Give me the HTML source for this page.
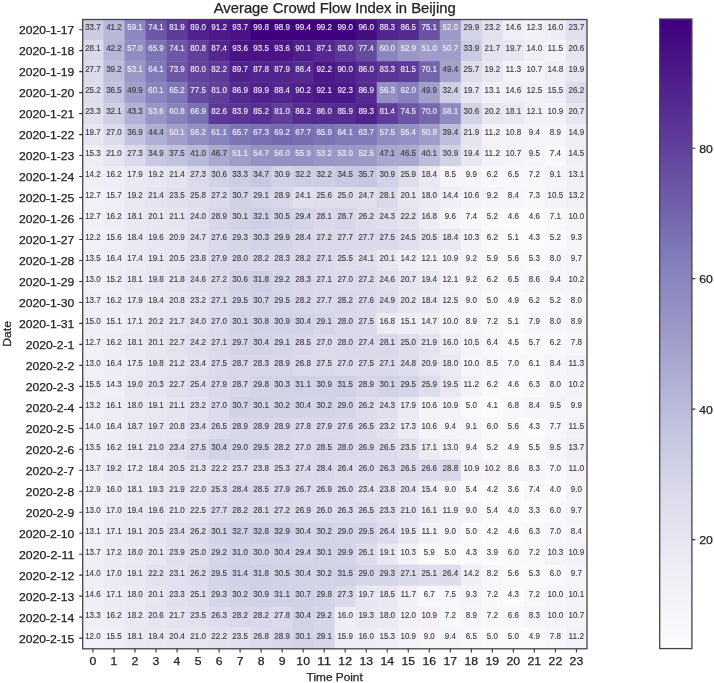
<!DOCTYPE html>
<html><head><meta charset="utf-8"><title>Average Crowd Flow Index in Beijing</title>
<style>html,body{margin:0;padding:0;background:#fff;}body{width:714px;height:683px;position:relative;overflow:hidden;font-family:"Liberation Sans", sans-serif;}</style>
</head><body>
<svg width="714" height="683" viewBox="0 0 714 683" style="position:absolute;left:0;top:0;will-change:transform">
<defs><linearGradient id="cb" x1="0" y1="1" x2="0" y2="0">
<stop offset="0.0000" stop-color="#fcfbfd"/>
<stop offset="0.1250" stop-color="#efedf5"/>
<stop offset="0.2500" stop-color="#dadaeb"/>
<stop offset="0.3750" stop-color="#bcbddc"/>
<stop offset="0.5000" stop-color="#9e9ac8"/>
<stop offset="0.6250" stop-color="#807cba"/>
<stop offset="0.7500" stop-color="#6950a3"/>
<stop offset="0.8750" stop-color="#53268f"/>
<stop offset="1.0000" stop-color="#3f007d"/>
</linearGradient></defs>
<rect width="714" height="683" fill="#fff"/>
<rect x="82.44" y="19.20" width="21.42" height="21.38" fill="#cbcbe3"/>
<rect x="103.46" y="19.20" width="21.42" height="21.38" fill="#b8b8d9"/>
<rect x="124.48" y="19.20" width="21.42" height="21.38" fill="#8b87bf"/>
<rect x="145.50" y="19.20" width="21.42" height="21.38" fill="#6d57a6"/>
<rect x="166.52" y="19.20" width="21.42" height="21.38" fill="#5e3b98"/>
<rect x="187.54" y="19.20" width="21.42" height="21.38" fill="#51228d"/>
<rect x="208.56" y="19.20" width="21.42" height="21.38" fill="#4d1b89"/>
<rect x="229.58" y="19.20" width="21.42" height="21.38" fill="#4a1486"/>
<rect x="250.60" y="19.20" width="21.42" height="21.38" fill="#3f007d"/>
<rect x="271.62" y="19.20" width="21.42" height="21.38" fill="#40027e"/>
<rect x="292.64" y="19.20" width="21.42" height="21.38" fill="#40017e"/>
<rect x="313.66" y="19.20" width="21.42" height="21.38" fill="#40017e"/>
<rect x="334.68" y="19.20" width="21.42" height="21.38" fill="#40027e"/>
<rect x="355.70" y="19.20" width="21.42" height="21.38" fill="#460c83"/>
<rect x="376.72" y="19.20" width="21.42" height="21.38" fill="#53258e"/>
<rect x="397.74" y="19.20" width="21.42" height="21.38" fill="#562b91"/>
<rect x="418.76" y="19.20" width="21.42" height="21.38" fill="#6b53a4"/>
<rect x="439.78" y="19.20" width="21.42" height="21.38" fill="#9d99c7"/>
<rect x="460.80" y="19.20" width="21.42" height="21.38" fill="#d4d4e8"/>
<rect x="481.82" y="19.20" width="21.42" height="21.38" fill="#e2e1ef"/>
<rect x="502.84" y="19.20" width="21.42" height="21.38" fill="#f0eef6"/>
<rect x="523.86" y="19.20" width="21.42" height="21.38" fill="#f3f1f7"/>
<rect x="544.88" y="19.20" width="21.42" height="21.38" fill="#eeecf5"/>
<rect x="565.90" y="19.20" width="21.42" height="21.38" fill="#e0e0ee"/>
<rect x="82.44" y="40.18" width="21.42" height="21.38" fill="#d9d9ea"/>
<rect x="103.46" y="40.18" width="21.42" height="21.38" fill="#b5b5d7"/>
<rect x="124.48" y="40.18" width="21.42" height="21.38" fill="#908dc2"/>
<rect x="145.50" y="40.18" width="21.42" height="21.38" fill="#7b74b5"/>
<rect x="166.52" y="40.18" width="21.42" height="21.38" fill="#6d57a6"/>
<rect x="187.54" y="40.18" width="21.42" height="21.38" fill="#613f9a"/>
<rect x="208.56" y="40.18" width="21.42" height="21.38" fill="#54278f"/>
<rect x="229.58" y="40.18" width="21.42" height="21.38" fill="#4a1486"/>
<rect x="250.60" y="40.18" width="21.42" height="21.38" fill="#4a1486"/>
<rect x="271.62" y="40.18" width="21.42" height="21.38" fill="#4a1486"/>
<rect x="292.64" y="40.18" width="21.42" height="21.38" fill="#4f1f8b"/>
<rect x="313.66" y="40.18" width="21.42" height="21.38" fill="#552890"/>
<rect x="334.68" y="40.18" width="21.42" height="21.38" fill="#5c3797"/>
<rect x="355.70" y="40.18" width="21.42" height="21.38" fill="#674ba0"/>
<rect x="376.72" y="40.18" width="21.42" height="21.38" fill="#8986be"/>
<rect x="397.74" y="40.18" width="21.42" height="21.38" fill="#9b97c6"/>
<rect x="418.76" y="40.18" width="21.42" height="21.38" fill="#9f9cc9"/>
<rect x="439.78" y="40.18" width="21.42" height="21.38" fill="#a09dca"/>
<rect x="460.80" y="40.18" width="21.42" height="21.38" fill="#cacae3"/>
<rect x="481.82" y="40.18" width="21.42" height="21.38" fill="#e4e3f0"/>
<rect x="502.84" y="40.18" width="21.42" height="21.38" fill="#e8e6f2"/>
<rect x="523.86" y="40.18" width="21.42" height="21.38" fill="#f1eff6"/>
<rect x="544.88" y="40.18" width="21.42" height="21.38" fill="#f3f2f8"/>
<rect x="565.90" y="40.18" width="21.42" height="21.38" fill="#e6e5f1"/>
<rect x="82.44" y="61.16" width="21.42" height="21.38" fill="#dadaeb"/>
<rect x="103.46" y="61.16" width="21.42" height="21.38" fill="#bdbedc"/>
<rect x="124.48" y="61.16" width="21.42" height="21.38" fill="#9a96c6"/>
<rect x="145.50" y="61.16" width="21.42" height="21.38" fill="#7f7bb9"/>
<rect x="166.52" y="61.16" width="21.42" height="21.38" fill="#6d57a6"/>
<rect x="187.54" y="61.16" width="21.42" height="21.38" fill="#62429c"/>
<rect x="208.56" y="61.16" width="21.42" height="21.38" fill="#5e3a98"/>
<rect x="229.58" y="61.16" width="21.42" height="21.38" fill="#50208c"/>
<rect x="250.60" y="61.16" width="21.42" height="21.38" fill="#53268f"/>
<rect x="271.62" y="61.16" width="21.42" height="21.38" fill="#53268f"/>
<rect x="292.64" y="61.16" width="21.42" height="21.38" fill="#562b91"/>
<rect x="313.66" y="61.16" width="21.42" height="21.38" fill="#4c1888"/>
<rect x="334.68" y="61.16" width="21.42" height="21.38" fill="#4f1f8b"/>
<rect x="355.70" y="61.16" width="21.42" height="21.38" fill="#572c92"/>
<rect x="376.72" y="61.16" width="21.42" height="21.38" fill="#5c3696"/>
<rect x="397.74" y="61.16" width="21.42" height="21.38" fill="#5f3c99"/>
<rect x="418.76" y="61.16" width="21.42" height="21.38" fill="#7465ad"/>
<rect x="439.78" y="61.16" width="21.42" height="21.38" fill="#a3a0cb"/>
<rect x="460.80" y="61.16" width="21.42" height="21.38" fill="#ddddec"/>
<rect x="481.82" y="61.16" width="21.42" height="21.38" fill="#e8e7f2"/>
<rect x="502.84" y="61.16" width="21.42" height="21.38" fill="#f3f2f8"/>
<rect x="523.86" y="61.16" width="21.42" height="21.38" fill="#f4f3f8"/>
<rect x="544.88" y="61.16" width="21.42" height="21.38" fill="#f0eef5"/>
<rect x="565.90" y="61.16" width="21.42" height="21.38" fill="#e7e6f1"/>
<rect x="82.44" y="82.14" width="21.42" height="21.38" fill="#dedded"/>
<rect x="103.46" y="82.14" width="21.42" height="21.38" fill="#c3c4e0"/>
<rect x="124.48" y="82.14" width="21.42" height="21.38" fill="#a29fcb"/>
<rect x="145.50" y="82.14" width="21.42" height="21.38" fill="#8986be"/>
<rect x="166.52" y="82.14" width="21.42" height="21.38" fill="#7d77b7"/>
<rect x="187.54" y="82.14" width="21.42" height="21.38" fill="#674ba0"/>
<rect x="208.56" y="82.14" width="21.42" height="21.38" fill="#603e9a"/>
<rect x="229.58" y="82.14" width="21.42" height="21.38" fill="#552a90"/>
<rect x="250.60" y="82.14" width="21.42" height="21.38" fill="#50208c"/>
<rect x="271.62" y="82.14" width="21.42" height="21.38" fill="#53258e"/>
<rect x="292.64" y="82.14" width="21.42" height="21.38" fill="#4f1f8b"/>
<rect x="313.66" y="82.14" width="21.42" height="21.38" fill="#4c1888"/>
<rect x="334.68" y="82.14" width="21.42" height="21.38" fill="#4c1788"/>
<rect x="355.70" y="82.14" width="21.42" height="21.38" fill="#552a90"/>
<rect x="376.72" y="82.14" width="21.42" height="21.38" fill="#928fc3"/>
<rect x="397.74" y="82.14" width="21.42" height="21.38" fill="#8481bc"/>
<rect x="418.76" y="82.14" width="21.42" height="21.38" fill="#a29fcb"/>
<rect x="439.78" y="82.14" width="21.42" height="21.38" fill="#cecee5"/>
<rect x="460.80" y="82.14" width="21.42" height="21.38" fill="#e8e6f2"/>
<rect x="481.82" y="82.14" width="21.42" height="21.38" fill="#f2f0f7"/>
<rect x="502.84" y="82.14" width="21.42" height="21.38" fill="#f0eef6"/>
<rect x="523.86" y="82.14" width="21.42" height="21.38" fill="#f2f0f7"/>
<rect x="544.88" y="82.14" width="21.42" height="21.38" fill="#efedf5"/>
<rect x="565.90" y="82.14" width="21.42" height="21.38" fill="#dcdcec"/>
<rect x="82.44" y="103.12" width="21.42" height="21.38" fill="#e1e0ee"/>
<rect x="103.46" y="103.12" width="21.42" height="21.38" fill="#cecfe5"/>
<rect x="124.48" y="103.12" width="21.42" height="21.38" fill="#b2b2d5"/>
<rect x="145.50" y="103.12" width="21.42" height="21.38" fill="#9995c6"/>
<rect x="166.52" y="103.12" width="21.42" height="21.38" fill="#8784bd"/>
<rect x="187.54" y="103.12" width="21.42" height="21.38" fill="#7a71b4"/>
<rect x="208.56" y="103.12" width="21.42" height="21.38" fill="#5d3897"/>
<rect x="229.58" y="103.12" width="21.42" height="21.38" fill="#5b3495"/>
<rect x="250.60" y="103.12" width="21.42" height="21.38" fill="#582f93"/>
<rect x="271.62" y="103.12" width="21.42" height="21.38" fill="#603e9a"/>
<rect x="292.64" y="103.12" width="21.42" height="21.38" fill="#572c92"/>
<rect x="313.66" y="103.12" width="21.42" height="21.38" fill="#572c92"/>
<rect x="334.68" y="103.12" width="21.42" height="21.38" fill="#572c92"/>
<rect x="355.70" y="103.12" width="21.42" height="21.38" fill="#51218c"/>
<rect x="376.72" y="103.12" width="21.42" height="21.38" fill="#5f3c99"/>
<rect x="397.74" y="103.12" width="21.42" height="21.38" fill="#6c55a5"/>
<rect x="418.76" y="103.12" width="21.42" height="21.38" fill="#7566ae"/>
<rect x="439.78" y="103.12" width="21.42" height="21.38" fill="#8e8ac0"/>
<rect x="460.80" y="103.12" width="21.42" height="21.38" fill="#d2d2e7"/>
<rect x="481.82" y="103.12" width="21.42" height="21.38" fill="#e7e6f1"/>
<rect x="502.84" y="103.12" width="21.42" height="21.38" fill="#eae9f3"/>
<rect x="523.86" y="103.12" width="21.42" height="21.38" fill="#f3f1f7"/>
<rect x="544.88" y="103.12" width="21.42" height="21.38" fill="#f4f2f8"/>
<rect x="565.90" y="103.12" width="21.42" height="21.38" fill="#e6e5f1"/>
<rect x="82.44" y="124.10" width="21.42" height="21.38" fill="#e8e6f2"/>
<rect x="103.46" y="124.10" width="21.42" height="21.38" fill="#dbdbec"/>
<rect x="124.48" y="124.10" width="21.42" height="21.38" fill="#c2c3df"/>
<rect x="145.50" y="124.10" width="21.42" height="21.38" fill="#afaed4"/>
<rect x="166.52" y="124.10" width="21.42" height="21.38" fill="#a19eca"/>
<rect x="187.54" y="124.10" width="21.42" height="21.38" fill="#928fc3"/>
<rect x="208.56" y="124.10" width="21.42" height="21.38" fill="#8683bd"/>
<rect x="229.58" y="124.10" width="21.42" height="21.38" fill="#7c75b6"/>
<rect x="250.60" y="124.10" width="21.42" height="21.38" fill="#7970b3"/>
<rect x="271.62" y="124.10" width="21.42" height="21.38" fill="#7669af"/>
<rect x="292.64" y="124.10" width="21.42" height="21.38" fill="#796eb2"/>
<rect x="313.66" y="124.10" width="21.42" height="21.38" fill="#7b74b5"/>
<rect x="334.68" y="124.10" width="21.42" height="21.38" fill="#7f7bb9"/>
<rect x="355.70" y="124.10" width="21.42" height="21.38" fill="#807cba"/>
<rect x="376.72" y="124.10" width="21.42" height="21.38" fill="#8f8cc1"/>
<rect x="397.74" y="124.10" width="21.42" height="21.38" fill="#9490c3"/>
<rect x="418.76" y="124.10" width="21.42" height="21.38" fill="#9f9cc9"/>
<rect x="439.78" y="124.10" width="21.42" height="21.38" fill="#bdbedc"/>
<rect x="460.80" y="124.10" width="21.42" height="21.38" fill="#e4e3f0"/>
<rect x="481.82" y="124.10" width="21.42" height="21.38" fill="#f4f2f8"/>
<rect x="502.84" y="124.10" width="21.42" height="21.38" fill="#f4f3f8"/>
<rect x="523.86" y="124.10" width="21.42" height="21.38" fill="#f5f4f9"/>
<rect x="544.88" y="124.10" width="21.42" height="21.38" fill="#f6f5f9"/>
<rect x="565.90" y="124.10" width="21.42" height="21.38" fill="#f0eef5"/>
<rect x="82.44" y="145.08" width="21.42" height="21.38" fill="#efedf5"/>
<rect x="103.46" y="145.08" width="21.42" height="21.38" fill="#e6e5f1"/>
<rect x="124.48" y="145.08" width="21.42" height="21.38" fill="#dadaeb"/>
<rect x="145.50" y="145.08" width="21.42" height="21.38" fill="#c8c8e2"/>
<rect x="166.52" y="145.08" width="21.42" height="21.38" fill="#c1c2df"/>
<rect x="187.54" y="145.08" width="21.42" height="21.38" fill="#b8b8d9"/>
<rect x="208.56" y="145.08" width="21.42" height="21.38" fill="#aaa8d0"/>
<rect x="229.58" y="145.08" width="21.42" height="21.38" fill="#9f9cc9"/>
<rect x="250.60" y="145.08" width="21.42" height="21.38" fill="#9692c4"/>
<rect x="271.62" y="145.08" width="21.42" height="21.38" fill="#9390c3"/>
<rect x="292.64" y="145.08" width="21.42" height="21.38" fill="#9390c3"/>
<rect x="313.66" y="145.08" width="21.42" height="21.38" fill="#9a96c6"/>
<rect x="334.68" y="145.08" width="21.42" height="21.38" fill="#9b97c6"/>
<rect x="355.70" y="145.08" width="21.42" height="21.38" fill="#9c98c7"/>
<rect x="376.72" y="145.08" width="21.42" height="21.38" fill="#a9a7cf"/>
<rect x="397.74" y="145.08" width="21.42" height="21.38" fill="#aba9d0"/>
<rect x="418.76" y="145.08" width="21.42" height="21.38" fill="#bbbbdb"/>
<rect x="439.78" y="145.08" width="21.42" height="21.38" fill="#d1d2e7"/>
<rect x="460.80" y="145.08" width="21.42" height="21.38" fill="#e8e7f2"/>
<rect x="481.82" y="145.08" width="21.42" height="21.38" fill="#f4f2f8"/>
<rect x="502.84" y="145.08" width="21.42" height="21.38" fill="#f4f3f8"/>
<rect x="523.86" y="145.08" width="21.42" height="21.38" fill="#f5f4f9"/>
<rect x="544.88" y="145.08" width="21.42" height="21.38" fill="#f8f7fa"/>
<rect x="565.90" y="145.08" width="21.42" height="21.38" fill="#f0eef6"/>
<rect x="82.44" y="166.06" width="21.42" height="21.38" fill="#f1eff6"/>
<rect x="103.46" y="166.06" width="21.42" height="21.38" fill="#eeecf4"/>
<rect x="124.48" y="166.06" width="21.42" height="21.38" fill="#ebe9f3"/>
<rect x="145.50" y="166.06" width="21.42" height="21.38" fill="#e8e7f2"/>
<rect x="166.52" y="166.06" width="21.42" height="21.38" fill="#e4e3f0"/>
<rect x="187.54" y="166.06" width="21.42" height="21.38" fill="#dadaeb"/>
<rect x="208.56" y="166.06" width="21.42" height="21.38" fill="#d2d2e7"/>
<rect x="229.58" y="166.06" width="21.42" height="21.38" fill="#cccce4"/>
<rect x="250.60" y="166.06" width="21.42" height="21.38" fill="#c8c8e2"/>
<rect x="271.62" y="166.06" width="21.42" height="21.38" fill="#d1d2e7"/>
<rect x="292.64" y="166.06" width="21.42" height="21.38" fill="#cecfe5"/>
<rect x="313.66" y="166.06" width="21.42" height="21.38" fill="#cecfe5"/>
<rect x="334.68" y="166.06" width="21.42" height="21.38" fill="#c9c9e2"/>
<rect x="355.70" y="166.06" width="21.42" height="21.38" fill="#c6c7e1"/>
<rect x="376.72" y="166.06" width="21.42" height="21.38" fill="#d1d2e7"/>
<rect x="397.74" y="166.06" width="21.42" height="21.38" fill="#ddddec"/>
<rect x="418.76" y="166.06" width="21.42" height="21.38" fill="#eae8f2"/>
<rect x="439.78" y="166.06" width="21.42" height="21.38" fill="#f7f5fa"/>
<rect x="460.80" y="166.06" width="21.42" height="21.38" fill="#f5f4f9"/>
<rect x="481.82" y="166.06" width="21.42" height="21.38" fill="#f9f8fb"/>
<rect x="502.84" y="166.06" width="21.42" height="21.38" fill="#f9f7fb"/>
<rect x="523.86" y="166.06" width="21.42" height="21.38" fill="#f8f7fa"/>
<rect x="544.88" y="166.06" width="21.42" height="21.38" fill="#f6f4f9"/>
<rect x="565.90" y="166.06" width="21.42" height="21.38" fill="#f2f0f7"/>
<rect x="82.44" y="187.04" width="21.42" height="21.38" fill="#f2f0f7"/>
<rect x="103.46" y="187.04" width="21.42" height="21.38" fill="#efedf5"/>
<rect x="124.48" y="187.04" width="21.42" height="21.38" fill="#e8e7f2"/>
<rect x="145.50" y="187.04" width="21.42" height="21.38" fill="#e4e3f0"/>
<rect x="166.52" y="187.04" width="21.42" height="21.38" fill="#e1e0ee"/>
<rect x="187.54" y="187.04" width="21.42" height="21.38" fill="#ddddec"/>
<rect x="208.56" y="187.04" width="21.42" height="21.38" fill="#dadaeb"/>
<rect x="229.58" y="187.04" width="21.42" height="21.38" fill="#d2d2e7"/>
<rect x="250.60" y="187.04" width="21.42" height="21.38" fill="#d6d6e9"/>
<rect x="271.62" y="187.04" width="21.42" height="21.38" fill="#d7d7e9"/>
<rect x="292.64" y="187.04" width="21.42" height="21.38" fill="#e0dfee"/>
<rect x="313.66" y="187.04" width="21.42" height="21.38" fill="#ddddec"/>
<rect x="334.68" y="187.04" width="21.42" height="21.38" fill="#dedeed"/>
<rect x="355.70" y="187.04" width="21.42" height="21.38" fill="#dfdfed"/>
<rect x="376.72" y="187.04" width="21.42" height="21.38" fill="#d9d9ea"/>
<rect x="397.74" y="187.04" width="21.42" height="21.38" fill="#e7e6f1"/>
<rect x="418.76" y="187.04" width="21.42" height="21.38" fill="#ebe9f3"/>
<rect x="439.78" y="187.04" width="21.42" height="21.38" fill="#f0eef6"/>
<rect x="460.80" y="187.04" width="21.42" height="21.38" fill="#f4f3f8"/>
<rect x="481.82" y="187.04" width="21.42" height="21.38" fill="#f6f4f9"/>
<rect x="502.84" y="187.04" width="21.42" height="21.38" fill="#f7f5fa"/>
<rect x="523.86" y="187.04" width="21.42" height="21.38" fill="#f8f7fa"/>
<rect x="544.88" y="187.04" width="21.42" height="21.38" fill="#f4f3f8"/>
<rect x="565.90" y="187.04" width="21.42" height="21.38" fill="#f1f0f6"/>
<rect x="82.44" y="208.02" width="21.42" height="21.38" fill="#f2f0f7"/>
<rect x="103.46" y="208.02" width="21.42" height="21.38" fill="#eeecf4"/>
<rect x="124.48" y="208.02" width="21.42" height="21.38" fill="#eae9f3"/>
<rect x="145.50" y="208.02" width="21.42" height="21.38" fill="#e7e6f1"/>
<rect x="166.52" y="208.02" width="21.42" height="21.38" fill="#e5e4f0"/>
<rect x="187.54" y="208.02" width="21.42" height="21.38" fill="#e0e0ee"/>
<rect x="208.56" y="208.02" width="21.42" height="21.38" fill="#d7d7e9"/>
<rect x="229.58" y="208.02" width="21.42" height="21.38" fill="#d3d3e8"/>
<rect x="250.60" y="208.02" width="21.42" height="21.38" fill="#cecfe5"/>
<rect x="271.62" y="208.02" width="21.42" height="21.38" fill="#d2d2e7"/>
<rect x="292.64" y="208.02" width="21.42" height="21.38" fill="#d5d5e9"/>
<rect x="313.66" y="208.02" width="21.42" height="21.38" fill="#d9d9ea"/>
<rect x="334.68" y="208.02" width="21.42" height="21.38" fill="#d7d7e9"/>
<rect x="355.70" y="208.02" width="21.42" height="21.38" fill="#dcdcec"/>
<rect x="376.72" y="208.02" width="21.42" height="21.38" fill="#e0dfee"/>
<rect x="397.74" y="208.02" width="21.42" height="21.38" fill="#e3e2ef"/>
<rect x="418.76" y="208.02" width="21.42" height="21.38" fill="#edebf4"/>
<rect x="439.78" y="208.02" width="21.42" height="21.38" fill="#f5f4f9"/>
<rect x="460.80" y="208.02" width="21.42" height="21.38" fill="#f8f7fa"/>
<rect x="481.82" y="208.02" width="21.42" height="21.38" fill="#faf9fc"/>
<rect x="502.84" y="208.02" width="21.42" height="21.38" fill="#fbfafc"/>
<rect x="523.86" y="208.02" width="21.42" height="21.38" fill="#fbfafc"/>
<rect x="544.88" y="208.02" width="21.42" height="21.38" fill="#f8f7fa"/>
<rect x="565.90" y="208.02" width="21.42" height="21.38" fill="#f5f4f9"/>
<rect x="82.44" y="229.00" width="21.42" height="21.38" fill="#f3f1f7"/>
<rect x="103.46" y="229.00" width="21.42" height="21.38" fill="#efedf5"/>
<rect x="124.48" y="229.00" width="21.42" height="21.38" fill="#eae8f2"/>
<rect x="145.50" y="229.00" width="21.42" height="21.38" fill="#e8e6f2"/>
<rect x="166.52" y="229.00" width="21.42" height="21.38" fill="#e6e5f1"/>
<rect x="187.54" y="229.00" width="21.42" height="21.38" fill="#dfdfed"/>
<rect x="208.56" y="229.00" width="21.42" height="21.38" fill="#dadaeb"/>
<rect x="229.58" y="229.00" width="21.42" height="21.38" fill="#d6d6e9"/>
<rect x="250.60" y="229.00" width="21.42" height="21.38" fill="#d3d3e8"/>
<rect x="271.62" y="229.00" width="21.42" height="21.38" fill="#d4d4e8"/>
<rect x="292.64" y="229.00" width="21.42" height="21.38" fill="#d8d8ea"/>
<rect x="313.66" y="229.00" width="21.42" height="21.38" fill="#dadaeb"/>
<rect x="334.68" y="229.00" width="21.42" height="21.38" fill="#dadaeb"/>
<rect x="355.70" y="229.00" width="21.42" height="21.38" fill="#dadaeb"/>
<rect x="376.72" y="229.00" width="21.42" height="21.38" fill="#dadaeb"/>
<rect x="397.74" y="229.00" width="21.42" height="21.38" fill="#dfdfed"/>
<rect x="418.76" y="229.00" width="21.42" height="21.38" fill="#e6e5f1"/>
<rect x="439.78" y="229.00" width="21.42" height="21.38" fill="#eae8f2"/>
<rect x="460.80" y="229.00" width="21.42" height="21.38" fill="#f5f3f8"/>
<rect x="481.82" y="229.00" width="21.42" height="21.38" fill="#f9f8fb"/>
<rect x="502.84" y="229.00" width="21.42" height="21.38" fill="#faf9fc"/>
<rect x="523.86" y="229.00" width="21.42" height="21.38" fill="#fbfafc"/>
<rect x="544.88" y="229.00" width="21.42" height="21.38" fill="#faf9fc"/>
<rect x="565.90" y="229.00" width="21.42" height="21.38" fill="#f6f4f9"/>
<rect x="82.44" y="249.98" width="21.42" height="21.38" fill="#f1eff6"/>
<rect x="103.46" y="249.98" width="21.42" height="21.38" fill="#eeecf4"/>
<rect x="124.48" y="249.98" width="21.42" height="21.38" fill="#eceaf3"/>
<rect x="145.50" y="249.98" width="21.42" height="21.38" fill="#e9e8f2"/>
<rect x="166.52" y="249.98" width="21.42" height="21.38" fill="#e6e5f1"/>
<rect x="187.54" y="249.98" width="21.42" height="21.38" fill="#e0e0ee"/>
<rect x="208.56" y="249.98" width="21.42" height="21.38" fill="#d9d9ea"/>
<rect x="229.58" y="249.98" width="21.42" height="21.38" fill="#d9d9ea"/>
<rect x="250.60" y="249.98" width="21.42" height="21.38" fill="#d8d8ea"/>
<rect x="271.62" y="249.98" width="21.42" height="21.38" fill="#d8d8ea"/>
<rect x="292.64" y="249.98" width="21.42" height="21.38" fill="#d8d8ea"/>
<rect x="313.66" y="249.98" width="21.42" height="21.38" fill="#dadaeb"/>
<rect x="334.68" y="249.98" width="21.42" height="21.38" fill="#dedded"/>
<rect x="355.70" y="249.98" width="21.42" height="21.38" fill="#e0dfee"/>
<rect x="376.72" y="249.98" width="21.42" height="21.38" fill="#e7e6f1"/>
<rect x="397.74" y="249.98" width="21.42" height="21.38" fill="#f1eff6"/>
<rect x="418.76" y="249.98" width="21.42" height="21.38" fill="#f3f1f7"/>
<rect x="439.78" y="249.98" width="21.42" height="21.38" fill="#f4f2f8"/>
<rect x="460.80" y="249.98" width="21.42" height="21.38" fill="#f6f4f9"/>
<rect x="481.82" y="249.98" width="21.42" height="21.38" fill="#faf8fb"/>
<rect x="502.84" y="249.98" width="21.42" height="21.38" fill="#faf8fb"/>
<rect x="523.86" y="249.98" width="21.42" height="21.38" fill="#faf9fc"/>
<rect x="544.88" y="249.98" width="21.42" height="21.38" fill="#f7f6fa"/>
<rect x="565.90" y="249.98" width="21.42" height="21.38" fill="#f5f4f9"/>
<rect x="82.44" y="270.96" width="21.42" height="21.38" fill="#f2f0f7"/>
<rect x="103.46" y="270.96" width="21.42" height="21.38" fill="#efedf5"/>
<rect x="124.48" y="270.96" width="21.42" height="21.38" fill="#eae9f3"/>
<rect x="145.50" y="270.96" width="21.42" height="21.38" fill="#e8e6f2"/>
<rect x="166.52" y="270.96" width="21.42" height="21.38" fill="#e4e3f0"/>
<rect x="187.54" y="270.96" width="21.42" height="21.38" fill="#dfdfed"/>
<rect x="208.56" y="270.96" width="21.42" height="21.38" fill="#dadaeb"/>
<rect x="229.58" y="270.96" width="21.42" height="21.38" fill="#d2d2e7"/>
<rect x="250.60" y="270.96" width="21.42" height="21.38" fill="#cfd0e6"/>
<rect x="271.62" y="270.96" width="21.42" height="21.38" fill="#d6d6e9"/>
<rect x="292.64" y="270.96" width="21.42" height="21.38" fill="#d8d8ea"/>
<rect x="313.66" y="270.96" width="21.42" height="21.38" fill="#dadaeb"/>
<rect x="334.68" y="270.96" width="21.42" height="21.38" fill="#dbdbec"/>
<rect x="355.70" y="270.96" width="21.42" height="21.38" fill="#dadaeb"/>
<rect x="376.72" y="270.96" width="21.42" height="21.38" fill="#dfdfed"/>
<rect x="397.74" y="270.96" width="21.42" height="21.38" fill="#e6e5f1"/>
<rect x="418.76" y="270.96" width="21.42" height="21.38" fill="#e8e7f2"/>
<rect x="439.78" y="270.96" width="21.42" height="21.38" fill="#f3f1f7"/>
<rect x="460.80" y="270.96" width="21.42" height="21.38" fill="#f6f4f9"/>
<rect x="481.82" y="270.96" width="21.42" height="21.38" fill="#f9f8fb"/>
<rect x="502.84" y="270.96" width="21.42" height="21.38" fill="#f9f7fb"/>
<rect x="523.86" y="270.96" width="21.42" height="21.38" fill="#f6f5f9"/>
<rect x="544.88" y="270.96" width="21.42" height="21.38" fill="#f5f4f9"/>
<rect x="565.90" y="270.96" width="21.42" height="21.38" fill="#f5f3f8"/>
<rect x="82.44" y="291.94" width="21.42" height="21.38" fill="#f1eff6"/>
<rect x="103.46" y="291.94" width="21.42" height="21.38" fill="#eeecf4"/>
<rect x="124.48" y="291.94" width="21.42" height="21.38" fill="#ebe9f3"/>
<rect x="145.50" y="291.94" width="21.42" height="21.38" fill="#e8e7f2"/>
<rect x="166.52" y="291.94" width="21.42" height="21.38" fill="#e6e5f1"/>
<rect x="187.54" y="291.94" width="21.42" height="21.38" fill="#e2e1ef"/>
<rect x="208.56" y="291.94" width="21.42" height="21.38" fill="#dadaeb"/>
<rect x="229.58" y="291.94" width="21.42" height="21.38" fill="#d5d5e9"/>
<rect x="250.60" y="291.94" width="21.42" height="21.38" fill="#d2d2e7"/>
<rect x="271.62" y="291.94" width="21.42" height="21.38" fill="#d5d5e9"/>
<rect x="292.64" y="291.94" width="21.42" height="21.38" fill="#d8d8ea"/>
<rect x="313.66" y="291.94" width="21.42" height="21.38" fill="#dadaeb"/>
<rect x="334.68" y="291.94" width="21.42" height="21.38" fill="#d8d8ea"/>
<rect x="355.70" y="291.94" width="21.42" height="21.38" fill="#dadaeb"/>
<rect x="376.72" y="291.94" width="21.42" height="21.38" fill="#dedeed"/>
<rect x="397.74" y="291.94" width="21.42" height="21.38" fill="#e7e6f1"/>
<rect x="418.76" y="291.94" width="21.42" height="21.38" fill="#eae8f2"/>
<rect x="439.78" y="291.94" width="21.42" height="21.38" fill="#f2f0f7"/>
<rect x="460.80" y="291.94" width="21.42" height="21.38" fill="#f6f4f9"/>
<rect x="481.82" y="291.94" width="21.42" height="21.38" fill="#faf9fc"/>
<rect x="502.84" y="291.94" width="21.42" height="21.38" fill="#faf9fc"/>
<rect x="523.86" y="291.94" width="21.42" height="21.38" fill="#f9f8fb"/>
<rect x="544.88" y="291.94" width="21.42" height="21.38" fill="#faf9fc"/>
<rect x="565.90" y="291.94" width="21.42" height="21.38" fill="#f7f6fa"/>
<rect x="82.44" y="312.92" width="21.42" height="21.38" fill="#efedf5"/>
<rect x="103.46" y="312.92" width="21.42" height="21.38" fill="#efedf5"/>
<rect x="124.48" y="312.92" width="21.42" height="21.38" fill="#ecebf4"/>
<rect x="145.50" y="312.92" width="21.42" height="21.38" fill="#e7e6f1"/>
<rect x="166.52" y="312.92" width="21.42" height="21.38" fill="#e4e3f0"/>
<rect x="187.54" y="312.92" width="21.42" height="21.38" fill="#e0e0ee"/>
<rect x="208.56" y="312.92" width="21.42" height="21.38" fill="#dbdbec"/>
<rect x="229.58" y="312.92" width="21.42" height="21.38" fill="#d3d3e8"/>
<rect x="250.60" y="312.92" width="21.42" height="21.38" fill="#d2d2e7"/>
<rect x="271.62" y="312.92" width="21.42" height="21.38" fill="#d1d2e7"/>
<rect x="292.64" y="312.92" width="21.42" height="21.38" fill="#d3d3e8"/>
<rect x="313.66" y="312.92" width="21.42" height="21.38" fill="#d6d6e9"/>
<rect x="334.68" y="312.92" width="21.42" height="21.38" fill="#d9d9ea"/>
<rect x="355.70" y="312.92" width="21.42" height="21.38" fill="#dadaeb"/>
<rect x="376.72" y="312.92" width="21.42" height="21.38" fill="#edebf4"/>
<rect x="397.74" y="312.92" width="21.42" height="21.38" fill="#efedf5"/>
<rect x="418.76" y="312.92" width="21.42" height="21.38" fill="#f0eef5"/>
<rect x="439.78" y="312.92" width="21.42" height="21.38" fill="#f5f4f9"/>
<rect x="460.80" y="312.92" width="21.42" height="21.38" fill="#f6f5f9"/>
<rect x="481.82" y="312.92" width="21.42" height="21.38" fill="#f8f7fa"/>
<rect x="502.84" y="312.92" width="21.42" height="21.38" fill="#faf9fc"/>
<rect x="523.86" y="312.92" width="21.42" height="21.38" fill="#f7f6fa"/>
<rect x="544.88" y="312.92" width="21.42" height="21.38" fill="#f7f6fa"/>
<rect x="565.90" y="312.92" width="21.42" height="21.38" fill="#f6f5f9"/>
<rect x="82.44" y="333.90" width="21.42" height="21.38" fill="#f2f0f7"/>
<rect x="103.46" y="333.90" width="21.42" height="21.38" fill="#eeecf4"/>
<rect x="124.48" y="333.90" width="21.42" height="21.38" fill="#eae9f3"/>
<rect x="145.50" y="333.90" width="21.42" height="21.38" fill="#e7e6f1"/>
<rect x="166.52" y="333.90" width="21.42" height="21.38" fill="#e2e2ef"/>
<rect x="187.54" y="333.90" width="21.42" height="21.38" fill="#e0dfee"/>
<rect x="208.56" y="333.90" width="21.42" height="21.38" fill="#dadaeb"/>
<rect x="229.58" y="333.90" width="21.42" height="21.38" fill="#d4d4e8"/>
<rect x="250.60" y="333.90" width="21.42" height="21.38" fill="#d3d3e8"/>
<rect x="271.62" y="333.90" width="21.42" height="21.38" fill="#d6d6e9"/>
<rect x="292.64" y="333.90" width="21.42" height="21.38" fill="#d8d8ea"/>
<rect x="313.66" y="333.90" width="21.42" height="21.38" fill="#dbdbec"/>
<rect x="334.68" y="333.90" width="21.42" height="21.38" fill="#d9d9ea"/>
<rect x="355.70" y="333.90" width="21.42" height="21.38" fill="#dadaeb"/>
<rect x="376.72" y="333.90" width="21.42" height="21.38" fill="#d9d9ea"/>
<rect x="397.74" y="333.90" width="21.42" height="21.38" fill="#dedeed"/>
<rect x="418.76" y="333.90" width="21.42" height="21.38" fill="#e4e3f0"/>
<rect x="439.78" y="333.90" width="21.42" height="21.38" fill="#eeecf5"/>
<rect x="460.80" y="333.90" width="21.42" height="21.38" fill="#f4f3f8"/>
<rect x="481.82" y="333.90" width="21.42" height="21.38" fill="#f9f7fb"/>
<rect x="502.84" y="333.90" width="21.42" height="21.38" fill="#fbfafc"/>
<rect x="523.86" y="333.90" width="21.42" height="21.38" fill="#faf8fb"/>
<rect x="544.88" y="333.90" width="21.42" height="21.38" fill="#f9f8fb"/>
<rect x="565.90" y="333.90" width="21.42" height="21.38" fill="#f8f6fa"/>
<rect x="82.44" y="354.88" width="21.42" height="21.38" fill="#f2f0f7"/>
<rect x="103.46" y="354.88" width="21.42" height="21.38" fill="#eeecf4"/>
<rect x="124.48" y="354.88" width="21.42" height="21.38" fill="#eceaf3"/>
<rect x="145.50" y="354.88" width="21.42" height="21.38" fill="#e8e6f2"/>
<rect x="166.52" y="354.88" width="21.42" height="21.38" fill="#e5e4f0"/>
<rect x="187.54" y="354.88" width="21.42" height="21.38" fill="#e1e0ee"/>
<rect x="208.56" y="354.88" width="21.42" height="21.38" fill="#dadaeb"/>
<rect x="229.58" y="354.88" width="21.42" height="21.38" fill="#d7d7e9"/>
<rect x="250.60" y="354.88" width="21.42" height="21.38" fill="#d8d8ea"/>
<rect x="271.62" y="354.88" width="21.42" height="21.38" fill="#d7d7e9"/>
<rect x="292.64" y="354.88" width="21.42" height="21.38" fill="#dbdbec"/>
<rect x="313.66" y="354.88" width="21.42" height="21.38" fill="#dadaeb"/>
<rect x="334.68" y="354.88" width="21.42" height="21.38" fill="#dbdbec"/>
<rect x="355.70" y="354.88" width="21.42" height="21.38" fill="#dadaeb"/>
<rect x="376.72" y="354.88" width="21.42" height="21.38" fill="#dadaeb"/>
<rect x="397.74" y="354.88" width="21.42" height="21.38" fill="#dedeed"/>
<rect x="418.76" y="354.88" width="21.42" height="21.38" fill="#e6e5f1"/>
<rect x="439.78" y="354.88" width="21.42" height="21.38" fill="#ebe9f3"/>
<rect x="460.80" y="354.88" width="21.42" height="21.38" fill="#f5f4f9"/>
<rect x="481.82" y="354.88" width="21.42" height="21.38" fill="#f7f5fa"/>
<rect x="502.84" y="354.88" width="21.42" height="21.38" fill="#f8f7fb"/>
<rect x="523.86" y="354.88" width="21.42" height="21.38" fill="#f9f8fb"/>
<rect x="544.88" y="354.88" width="21.42" height="21.38" fill="#f7f5fa"/>
<rect x="565.90" y="354.88" width="21.42" height="21.38" fill="#f3f2f8"/>
<rect x="82.44" y="375.86" width="21.42" height="21.38" fill="#efedf5"/>
<rect x="103.46" y="375.86" width="21.42" height="21.38" fill="#f0eef6"/>
<rect x="124.48" y="375.86" width="21.42" height="21.38" fill="#e9e8f2"/>
<rect x="145.50" y="375.86" width="21.42" height="21.38" fill="#e6e5f1"/>
<rect x="166.52" y="375.86" width="21.42" height="21.38" fill="#e2e2ef"/>
<rect x="187.54" y="375.86" width="21.42" height="21.38" fill="#dedded"/>
<rect x="208.56" y="375.86" width="21.42" height="21.38" fill="#d9d9ea"/>
<rect x="229.58" y="375.86" width="21.42" height="21.38" fill="#d7d7e9"/>
<rect x="250.60" y="375.86" width="21.42" height="21.38" fill="#d4d4e8"/>
<rect x="271.62" y="375.86" width="21.42" height="21.38" fill="#d3d3e8"/>
<rect x="292.64" y="375.86" width="21.42" height="21.38" fill="#d1d2e7"/>
<rect x="313.66" y="375.86" width="21.42" height="21.38" fill="#d1d2e7"/>
<rect x="334.68" y="375.86" width="21.42" height="21.38" fill="#d0d1e6"/>
<rect x="355.70" y="375.86" width="21.42" height="21.38" fill="#d7d7e9"/>
<rect x="376.72" y="375.86" width="21.42" height="21.38" fill="#d3d3e8"/>
<rect x="397.74" y="375.86" width="21.42" height="21.38" fill="#d5d5e9"/>
<rect x="418.76" y="375.86" width="21.42" height="21.38" fill="#ddddec"/>
<rect x="439.78" y="375.86" width="21.42" height="21.38" fill="#e8e7f2"/>
<rect x="460.80" y="375.86" width="21.42" height="21.38" fill="#f4f2f8"/>
<rect x="481.82" y="375.86" width="21.42" height="21.38" fill="#f9f8fb"/>
<rect x="502.84" y="375.86" width="21.42" height="21.38" fill="#fbfafc"/>
<rect x="523.86" y="375.86" width="21.42" height="21.38" fill="#f9f8fb"/>
<rect x="544.88" y="375.86" width="21.42" height="21.38" fill="#f7f6fa"/>
<rect x="565.90" y="375.86" width="21.42" height="21.38" fill="#f5f3f8"/>
<rect x="82.44" y="396.84" width="21.42" height="21.38" fill="#f1f0f6"/>
<rect x="103.46" y="396.84" width="21.42" height="21.38" fill="#eeecf5"/>
<rect x="124.48" y="396.84" width="21.42" height="21.38" fill="#ebe9f3"/>
<rect x="145.50" y="396.84" width="21.42" height="21.38" fill="#e9e8f2"/>
<rect x="166.52" y="396.84" width="21.42" height="21.38" fill="#e5e4f0"/>
<rect x="187.54" y="396.84" width="21.42" height="21.38" fill="#e2e1ef"/>
<rect x="208.56" y="396.84" width="21.42" height="21.38" fill="#dbdbec"/>
<rect x="229.58" y="396.84" width="21.42" height="21.38" fill="#d2d2e7"/>
<rect x="250.60" y="396.84" width="21.42" height="21.38" fill="#d3d3e8"/>
<rect x="271.62" y="396.84" width="21.42" height="21.38" fill="#d3d3e8"/>
<rect x="292.64" y="396.84" width="21.42" height="21.38" fill="#d3d3e8"/>
<rect x="313.66" y="396.84" width="21.42" height="21.38" fill="#d3d3e8"/>
<rect x="334.68" y="396.84" width="21.42" height="21.38" fill="#d6d6e9"/>
<rect x="355.70" y="396.84" width="21.42" height="21.38" fill="#dcdcec"/>
<rect x="376.72" y="396.84" width="21.42" height="21.38" fill="#e0dfee"/>
<rect x="397.74" y="396.84" width="21.42" height="21.38" fill="#ebe9f3"/>
<rect x="418.76" y="396.84" width="21.42" height="21.38" fill="#f4f3f8"/>
<rect x="439.78" y="396.84" width="21.42" height="21.38" fill="#f4f2f8"/>
<rect x="460.80" y="396.84" width="21.42" height="21.38" fill="#faf9fc"/>
<rect x="481.82" y="396.84" width="21.42" height="21.38" fill="#fbfafc"/>
<rect x="502.84" y="396.84" width="21.42" height="21.38" fill="#f8f7fb"/>
<rect x="523.86" y="396.84" width="21.42" height="21.38" fill="#f7f5fa"/>
<rect x="544.88" y="396.84" width="21.42" height="21.38" fill="#f5f4f9"/>
<rect x="565.90" y="396.84" width="21.42" height="21.38" fill="#f5f4f9"/>
<rect x="82.44" y="417.82" width="21.42" height="21.38" fill="#f1eff6"/>
<rect x="103.46" y="417.82" width="21.42" height="21.38" fill="#eeecf4"/>
<rect x="124.48" y="417.82" width="21.42" height="21.38" fill="#eae8f2"/>
<rect x="145.50" y="417.82" width="21.42" height="21.38" fill="#e8e6f2"/>
<rect x="166.52" y="417.82" width="21.42" height="21.38" fill="#e6e5f1"/>
<rect x="187.54" y="417.82" width="21.42" height="21.38" fill="#e1e0ee"/>
<rect x="208.56" y="417.82" width="21.42" height="21.38" fill="#dcdcec"/>
<rect x="229.58" y="417.82" width="21.42" height="21.38" fill="#d7d7e9"/>
<rect x="250.60" y="417.82" width="21.42" height="21.38" fill="#d7d7e9"/>
<rect x="271.62" y="417.82" width="21.42" height="21.38" fill="#d7d7e9"/>
<rect x="292.64" y="417.82" width="21.42" height="21.38" fill="#dadaeb"/>
<rect x="313.66" y="417.82" width="21.42" height="21.38" fill="#d9d9ea"/>
<rect x="334.68" y="417.82" width="21.42" height="21.38" fill="#dadaeb"/>
<rect x="355.70" y="417.82" width="21.42" height="21.38" fill="#dcdcec"/>
<rect x="376.72" y="417.82" width="21.42" height="21.38" fill="#e2e1ef"/>
<rect x="397.74" y="417.82" width="21.42" height="21.38" fill="#eceaf3"/>
<rect x="418.76" y="417.82" width="21.42" height="21.38" fill="#f4f3f8"/>
<rect x="439.78" y="417.82" width="21.42" height="21.38" fill="#f5f4f9"/>
<rect x="460.80" y="417.82" width="21.42" height="21.38" fill="#f6f4f9"/>
<rect x="481.82" y="417.82" width="21.42" height="21.38" fill="#f9f8fb"/>
<rect x="502.84" y="417.82" width="21.42" height="21.38" fill="#faf8fb"/>
<rect x="523.86" y="417.82" width="21.42" height="21.38" fill="#fbfafc"/>
<rect x="544.88" y="417.82" width="21.42" height="21.38" fill="#f8f6fa"/>
<rect x="565.90" y="417.82" width="21.42" height="21.38" fill="#f3f2f8"/>
<rect x="82.44" y="438.80" width="21.42" height="21.38" fill="#f1eff6"/>
<rect x="103.46" y="438.80" width="21.42" height="21.38" fill="#eeecf4"/>
<rect x="124.48" y="438.80" width="21.42" height="21.38" fill="#e9e8f2"/>
<rect x="145.50" y="438.80" width="21.42" height="21.38" fill="#e6e5f1"/>
<rect x="166.52" y="438.80" width="21.42" height="21.38" fill="#e1e0ee"/>
<rect x="187.54" y="438.80" width="21.42" height="21.38" fill="#dadaeb"/>
<rect x="208.56" y="438.80" width="21.42" height="21.38" fill="#d3d3e8"/>
<rect x="229.58" y="438.80" width="21.42" height="21.38" fill="#d6d6e9"/>
<rect x="250.60" y="438.80" width="21.42" height="21.38" fill="#d5d5e9"/>
<rect x="271.62" y="438.80" width="21.42" height="21.38" fill="#d8d8ea"/>
<rect x="292.64" y="438.80" width="21.42" height="21.38" fill="#dbdbec"/>
<rect x="313.66" y="438.80" width="21.42" height="21.38" fill="#d8d8ea"/>
<rect x="334.68" y="438.80" width="21.42" height="21.38" fill="#d9d9ea"/>
<rect x="355.70" y="438.80" width="21.42" height="21.38" fill="#dbdbec"/>
<rect x="376.72" y="438.80" width="21.42" height="21.38" fill="#dcdcec"/>
<rect x="397.74" y="438.80" width="21.42" height="21.38" fill="#e1e0ee"/>
<rect x="418.76" y="438.80" width="21.42" height="21.38" fill="#ecebf4"/>
<rect x="439.78" y="438.80" width="21.42" height="21.38" fill="#f2f0f7"/>
<rect x="460.80" y="438.80" width="21.42" height="21.38" fill="#f5f4f9"/>
<rect x="481.82" y="438.80" width="21.42" height="21.38" fill="#faf9fc"/>
<rect x="502.84" y="438.80" width="21.42" height="21.38" fill="#faf9fc"/>
<rect x="523.86" y="438.80" width="21.42" height="21.38" fill="#faf9fc"/>
<rect x="544.88" y="438.80" width="21.42" height="21.38" fill="#f5f4f9"/>
<rect x="565.90" y="438.80" width="21.42" height="21.38" fill="#f1eff6"/>
<rect x="82.44" y="459.78" width="21.42" height="21.38" fill="#f1eff6"/>
<rect x="103.46" y="459.78" width="21.42" height="21.38" fill="#e8e7f2"/>
<rect x="124.48" y="459.78" width="21.42" height="21.38" fill="#ecebf4"/>
<rect x="145.50" y="459.78" width="21.42" height="21.38" fill="#eae8f2"/>
<rect x="166.52" y="459.78" width="21.42" height="21.38" fill="#e6e5f1"/>
<rect x="187.54" y="459.78" width="21.42" height="21.38" fill="#e5e4f0"/>
<rect x="208.56" y="459.78" width="21.42" height="21.38" fill="#e3e2ef"/>
<rect x="229.58" y="459.78" width="21.42" height="21.38" fill="#e0e0ee"/>
<rect x="250.60" y="459.78" width="21.42" height="21.38" fill="#e0e0ee"/>
<rect x="271.62" y="459.78" width="21.42" height="21.38" fill="#dedded"/>
<rect x="292.64" y="459.78" width="21.42" height="21.38" fill="#dadaeb"/>
<rect x="313.66" y="459.78" width="21.42" height="21.38" fill="#d8d8ea"/>
<rect x="334.68" y="459.78" width="21.42" height="21.38" fill="#dcdcec"/>
<rect x="355.70" y="459.78" width="21.42" height="21.38" fill="#dcdcec"/>
<rect x="376.72" y="459.78" width="21.42" height="21.38" fill="#dcdcec"/>
<rect x="397.74" y="459.78" width="21.42" height="21.38" fill="#dcdcec"/>
<rect x="418.76" y="459.78" width="21.42" height="21.38" fill="#dcdcec"/>
<rect x="439.78" y="459.78" width="21.42" height="21.38" fill="#d7d7e9"/>
<rect x="460.80" y="459.78" width="21.42" height="21.38" fill="#f4f2f8"/>
<rect x="481.82" y="459.78" width="21.42" height="21.38" fill="#f5f3f8"/>
<rect x="502.84" y="459.78" width="21.42" height="21.38" fill="#f6f5f9"/>
<rect x="523.86" y="459.78" width="21.42" height="21.38" fill="#f7f5fa"/>
<rect x="544.88" y="459.78" width="21.42" height="21.38" fill="#f8f7fb"/>
<rect x="565.90" y="459.78" width="21.42" height="21.38" fill="#f4f2f8"/>
<rect x="82.44" y="480.76" width="21.42" height="21.38" fill="#f2f0f7"/>
<rect x="103.46" y="480.76" width="21.42" height="21.38" fill="#eeecf5"/>
<rect x="124.48" y="480.76" width="21.42" height="21.38" fill="#eae9f3"/>
<rect x="145.50" y="480.76" width="21.42" height="21.38" fill="#e8e7f2"/>
<rect x="166.52" y="480.76" width="21.42" height="21.38" fill="#e4e3f0"/>
<rect x="187.54" y="480.76" width="21.42" height="21.38" fill="#e4e3f0"/>
<rect x="208.56" y="480.76" width="21.42" height="21.38" fill="#dedded"/>
<rect x="229.58" y="480.76" width="21.42" height="21.38" fill="#d8d8ea"/>
<rect x="250.60" y="480.76" width="21.42" height="21.38" fill="#d8d8ea"/>
<rect x="271.62" y="480.76" width="21.42" height="21.38" fill="#d9d9ea"/>
<rect x="292.64" y="480.76" width="21.42" height="21.38" fill="#dbdbec"/>
<rect x="313.66" y="480.76" width="21.42" height="21.38" fill="#dbdbec"/>
<rect x="334.68" y="480.76" width="21.42" height="21.38" fill="#dcdcec"/>
<rect x="355.70" y="480.76" width="21.42" height="21.38" fill="#e1e0ee"/>
<rect x="376.72" y="480.76" width="21.42" height="21.38" fill="#e0e0ee"/>
<rect x="397.74" y="480.76" width="21.42" height="21.38" fill="#e6e5f1"/>
<rect x="418.76" y="480.76" width="21.42" height="21.38" fill="#efedf5"/>
<rect x="439.78" y="480.76" width="21.42" height="21.38" fill="#f6f4f9"/>
<rect x="460.80" y="480.76" width="21.42" height="21.38" fill="#faf9fc"/>
<rect x="481.82" y="480.76" width="21.42" height="21.38" fill="#fbfafc"/>
<rect x="502.84" y="480.76" width="21.42" height="21.38" fill="#fcfbfd"/>
<rect x="523.86" y="480.76" width="21.42" height="21.38" fill="#f8f7fa"/>
<rect x="544.88" y="480.76" width="21.42" height="21.38" fill="#fcfbfd"/>
<rect x="565.90" y="480.76" width="21.42" height="21.38" fill="#f6f4f9"/>
<rect x="82.44" y="501.74" width="21.42" height="21.38" fill="#f2f0f7"/>
<rect x="103.46" y="501.74" width="21.42" height="21.38" fill="#ecebf4"/>
<rect x="124.48" y="501.74" width="21.42" height="21.38" fill="#e8e7f2"/>
<rect x="145.50" y="501.74" width="21.42" height="21.38" fill="#e8e6f2"/>
<rect x="166.52" y="501.74" width="21.42" height="21.38" fill="#e6e5f1"/>
<rect x="187.54" y="501.74" width="21.42" height="21.38" fill="#e3e2ef"/>
<rect x="208.56" y="501.74" width="21.42" height="21.38" fill="#dadaeb"/>
<rect x="229.58" y="501.74" width="21.42" height="21.38" fill="#d8d8ea"/>
<rect x="250.60" y="501.74" width="21.42" height="21.38" fill="#d9d9ea"/>
<rect x="271.62" y="501.74" width="21.42" height="21.38" fill="#dadaeb"/>
<rect x="292.64" y="501.74" width="21.42" height="21.38" fill="#dbdbec"/>
<rect x="313.66" y="501.74" width="21.42" height="21.38" fill="#dcdcec"/>
<rect x="334.68" y="501.74" width="21.42" height="21.38" fill="#dcdcec"/>
<rect x="355.70" y="501.74" width="21.42" height="21.38" fill="#dcdcec"/>
<rect x="376.72" y="501.74" width="21.42" height="21.38" fill="#e1e0ee"/>
<rect x="397.74" y="501.74" width="21.42" height="21.38" fill="#e6e5f1"/>
<rect x="418.76" y="501.74" width="21.42" height="21.38" fill="#eeecf5"/>
<rect x="439.78" y="501.74" width="21.42" height="21.38" fill="#f3f1f7"/>
<rect x="460.80" y="501.74" width="21.42" height="21.38" fill="#f6f4f9"/>
<rect x="481.82" y="501.74" width="21.42" height="21.38" fill="#faf9fc"/>
<rect x="502.84" y="501.74" width="21.42" height="21.38" fill="#fcfbfd"/>
<rect x="523.86" y="501.74" width="21.42" height="21.38" fill="#fcfbfd"/>
<rect x="544.88" y="501.74" width="21.42" height="21.38" fill="#f9f8fb"/>
<rect x="565.90" y="501.74" width="21.42" height="21.38" fill="#f5f4f9"/>
<rect x="82.44" y="522.72" width="21.42" height="21.38" fill="#f2f0f7"/>
<rect x="103.46" y="522.72" width="21.42" height="21.38" fill="#ecebf4"/>
<rect x="124.48" y="522.72" width="21.42" height="21.38" fill="#e9e8f2"/>
<rect x="145.50" y="522.72" width="21.42" height="21.38" fill="#e6e5f1"/>
<rect x="166.52" y="522.72" width="21.42" height="21.38" fill="#e1e0ee"/>
<rect x="187.54" y="522.72" width="21.42" height="21.38" fill="#dcdcec"/>
<rect x="208.56" y="522.72" width="21.42" height="21.38" fill="#d3d3e8"/>
<rect x="229.58" y="522.72" width="21.42" height="21.38" fill="#cecee5"/>
<rect x="250.60" y="522.72" width="21.42" height="21.38" fill="#cdcde4"/>
<rect x="271.62" y="522.72" width="21.42" height="21.38" fill="#cdcde4"/>
<rect x="292.64" y="522.72" width="21.42" height="21.38" fill="#d3d3e8"/>
<rect x="313.66" y="522.72" width="21.42" height="21.38" fill="#d3d3e8"/>
<rect x="334.68" y="522.72" width="21.42" height="21.38" fill="#d6d6e9"/>
<rect x="355.70" y="522.72" width="21.42" height="21.38" fill="#d5d5e9"/>
<rect x="376.72" y="522.72" width="21.42" height="21.38" fill="#dcdcec"/>
<rect x="397.74" y="522.72" width="21.42" height="21.38" fill="#e8e7f2"/>
<rect x="418.76" y="522.72" width="21.42" height="21.38" fill="#f4f2f8"/>
<rect x="439.78" y="522.72" width="21.42" height="21.38" fill="#f6f4f9"/>
<rect x="460.80" y="522.72" width="21.42" height="21.38" fill="#faf9fc"/>
<rect x="481.82" y="522.72" width="21.42" height="21.38" fill="#fbfafc"/>
<rect x="502.84" y="522.72" width="21.42" height="21.38" fill="#fbfafc"/>
<rect x="523.86" y="522.72" width="21.42" height="21.38" fill="#f9f8fb"/>
<rect x="544.88" y="522.72" width="21.42" height="21.38" fill="#f8f7fb"/>
<rect x="565.90" y="522.72" width="21.42" height="21.38" fill="#f7f5fa"/>
<rect x="82.44" y="543.70" width="21.42" height="21.38" fill="#f1eff6"/>
<rect x="103.46" y="543.70" width="21.42" height="21.38" fill="#ecebf4"/>
<rect x="124.48" y="543.70" width="21.42" height="21.38" fill="#ebe9f3"/>
<rect x="145.50" y="543.70" width="21.42" height="21.38" fill="#e7e6f1"/>
<rect x="166.52" y="543.70" width="21.42" height="21.38" fill="#e0e0ee"/>
<rect x="187.54" y="543.70" width="21.42" height="21.38" fill="#dedeed"/>
<rect x="208.56" y="543.70" width="21.42" height="21.38" fill="#d6d6e9"/>
<rect x="229.58" y="543.70" width="21.42" height="21.38" fill="#d1d2e7"/>
<rect x="250.60" y="543.70" width="21.42" height="21.38" fill="#d4d4e8"/>
<rect x="271.62" y="543.70" width="21.42" height="21.38" fill="#d3d3e8"/>
<rect x="292.64" y="543.70" width="21.42" height="21.38" fill="#d5d5e9"/>
<rect x="313.66" y="543.70" width="21.42" height="21.38" fill="#d3d3e8"/>
<rect x="334.68" y="543.70" width="21.42" height="21.38" fill="#d4d4e8"/>
<rect x="355.70" y="543.70" width="21.42" height="21.38" fill="#dcdcec"/>
<rect x="376.72" y="543.70" width="21.42" height="21.38" fill="#e9e8f2"/>
<rect x="397.74" y="543.70" width="21.42" height="21.38" fill="#f5f3f8"/>
<rect x="418.76" y="543.70" width="21.42" height="21.38" fill="#faf8fb"/>
<rect x="439.78" y="543.70" width="21.42" height="21.38" fill="#faf9fc"/>
<rect x="460.80" y="543.70" width="21.42" height="21.38" fill="#fbfafc"/>
<rect x="481.82" y="543.70" width="21.42" height="21.38" fill="#fcfbfd"/>
<rect x="502.84" y="543.70" width="21.42" height="21.38" fill="#f9f8fb"/>
<rect x="523.86" y="543.70" width="21.42" height="21.38" fill="#f8f7fa"/>
<rect x="544.88" y="543.70" width="21.42" height="21.38" fill="#f5f3f8"/>
<rect x="565.90" y="543.70" width="21.42" height="21.38" fill="#f4f2f8"/>
<rect x="82.44" y="564.68" width="21.42" height="21.38" fill="#f1eff6"/>
<rect x="103.46" y="564.68" width="21.42" height="21.38" fill="#ecebf4"/>
<rect x="124.48" y="564.68" width="21.42" height="21.38" fill="#e9e8f2"/>
<rect x="145.50" y="564.68" width="21.42" height="21.38" fill="#e3e2ef"/>
<rect x="166.52" y="564.68" width="21.42" height="21.38" fill="#e2e1ef"/>
<rect x="187.54" y="564.68" width="21.42" height="21.38" fill="#dcdcec"/>
<rect x="208.56" y="564.68" width="21.42" height="21.38" fill="#d5d5e9"/>
<rect x="229.58" y="564.68" width="21.42" height="21.38" fill="#d0d1e6"/>
<rect x="250.60" y="564.68" width="21.42" height="21.38" fill="#cfd0e6"/>
<rect x="271.62" y="564.68" width="21.42" height="21.38" fill="#d2d2e7"/>
<rect x="292.64" y="564.68" width="21.42" height="21.38" fill="#d3d3e8"/>
<rect x="313.66" y="564.68" width="21.42" height="21.38" fill="#d3d3e8"/>
<rect x="334.68" y="564.68" width="21.42" height="21.38" fill="#d0d1e6"/>
<rect x="355.70" y="564.68" width="21.42" height="21.38" fill="#d6d6e9"/>
<rect x="376.72" y="564.68" width="21.42" height="21.38" fill="#d6d6e9"/>
<rect x="397.74" y="564.68" width="21.42" height="21.38" fill="#dadaeb"/>
<rect x="418.76" y="564.68" width="21.42" height="21.38" fill="#dedeed"/>
<rect x="439.78" y="564.68" width="21.42" height="21.38" fill="#dcdcec"/>
<rect x="460.80" y="564.68" width="21.42" height="21.38" fill="#f1eff6"/>
<rect x="481.82" y="564.68" width="21.42" height="21.38" fill="#f7f6fa"/>
<rect x="502.84" y="564.68" width="21.42" height="21.38" fill="#faf8fb"/>
<rect x="523.86" y="564.68" width="21.42" height="21.38" fill="#faf9fc"/>
<rect x="544.88" y="564.68" width="21.42" height="21.38" fill="#f9f8fb"/>
<rect x="565.90" y="564.68" width="21.42" height="21.38" fill="#f5f4f9"/>
<rect x="82.44" y="585.66" width="21.42" height="21.38" fill="#f0eef6"/>
<rect x="103.46" y="585.66" width="21.42" height="21.38" fill="#ecebf4"/>
<rect x="124.48" y="585.66" width="21.42" height="21.38" fill="#ebe9f3"/>
<rect x="145.50" y="585.66" width="21.42" height="21.38" fill="#e7e6f1"/>
<rect x="166.52" y="585.66" width="21.42" height="21.38" fill="#e1e0ee"/>
<rect x="187.54" y="585.66" width="21.42" height="21.38" fill="#dedeed"/>
<rect x="208.56" y="585.66" width="21.42" height="21.38" fill="#d6d6e9"/>
<rect x="229.58" y="585.66" width="21.42" height="21.38" fill="#d3d3e8"/>
<rect x="250.60" y="585.66" width="21.42" height="21.38" fill="#d1d2e7"/>
<rect x="271.62" y="585.66" width="21.42" height="21.38" fill="#d1d2e7"/>
<rect x="292.64" y="585.66" width="21.42" height="21.38" fill="#d2d2e7"/>
<rect x="313.66" y="585.66" width="21.42" height="21.38" fill="#d4d4e8"/>
<rect x="334.68" y="585.66" width="21.42" height="21.38" fill="#dadaeb"/>
<rect x="355.70" y="585.66" width="21.42" height="21.38" fill="#e8e6f2"/>
<rect x="376.72" y="585.66" width="21.42" height="21.38" fill="#eae8f2"/>
<rect x="397.74" y="585.66" width="21.42" height="21.38" fill="#f3f1f7"/>
<rect x="418.76" y="585.66" width="21.42" height="21.38" fill="#f8f7fb"/>
<rect x="439.78" y="585.66" width="21.42" height="21.38" fill="#f8f6fa"/>
<rect x="460.80" y="585.66" width="21.42" height="21.38" fill="#f6f4f9"/>
<rect x="481.82" y="585.66" width="21.42" height="21.38" fill="#f8f7fa"/>
<rect x="502.84" y="585.66" width="21.42" height="21.38" fill="#fbfafc"/>
<rect x="523.86" y="585.66" width="21.42" height="21.38" fill="#f8f7fa"/>
<rect x="544.88" y="585.66" width="21.42" height="21.38" fill="#f5f4f9"/>
<rect x="565.90" y="585.66" width="21.42" height="21.38" fill="#f5f3f8"/>
<rect x="82.44" y="606.64" width="21.42" height="21.38" fill="#f1f0f6"/>
<rect x="103.46" y="606.64" width="21.42" height="21.38" fill="#eeecf4"/>
<rect x="124.48" y="606.64" width="21.42" height="21.38" fill="#eae9f3"/>
<rect x="145.50" y="606.64" width="21.42" height="21.38" fill="#e6e5f1"/>
<rect x="166.52" y="606.64" width="21.42" height="21.38" fill="#e4e3f0"/>
<rect x="187.54" y="606.64" width="21.42" height="21.38" fill="#e1e0ee"/>
<rect x="208.56" y="606.64" width="21.42" height="21.38" fill="#dcdcec"/>
<rect x="229.58" y="606.64" width="21.42" height="21.38" fill="#d8d8ea"/>
<rect x="250.60" y="606.64" width="21.42" height="21.38" fill="#d8d8ea"/>
<rect x="271.62" y="606.64" width="21.42" height="21.38" fill="#dadaeb"/>
<rect x="292.64" y="606.64" width="21.42" height="21.38" fill="#d3d3e8"/>
<rect x="313.66" y="606.64" width="21.42" height="21.38" fill="#d6d6e9"/>
<rect x="334.68" y="606.64" width="21.42" height="21.38" fill="#eeecf5"/>
<rect x="355.70" y="606.64" width="21.42" height="21.38" fill="#e8e7f2"/>
<rect x="376.72" y="606.64" width="21.42" height="21.38" fill="#ebe9f3"/>
<rect x="397.74" y="606.64" width="21.42" height="21.38" fill="#f3f1f7"/>
<rect x="418.76" y="606.64" width="21.42" height="21.38" fill="#f4f2f8"/>
<rect x="439.78" y="606.64" width="21.42" height="21.38" fill="#f8f7fa"/>
<rect x="460.80" y="606.64" width="21.42" height="21.38" fill="#f6f5f9"/>
<rect x="481.82" y="606.64" width="21.42" height="21.38" fill="#f8f7fa"/>
<rect x="502.84" y="606.64" width="21.42" height="21.38" fill="#f9f7fb"/>
<rect x="523.86" y="606.64" width="21.42" height="21.38" fill="#f7f5fa"/>
<rect x="544.88" y="606.64" width="21.42" height="21.38" fill="#f5f4f9"/>
<rect x="565.90" y="606.64" width="21.42" height="21.38" fill="#f4f3f8"/>
<rect x="82.44" y="627.62" width="21.42" height="21.38" fill="#f3f1f7"/>
<rect x="103.46" y="627.62" width="21.42" height="21.38" fill="#efedf5"/>
<rect x="124.48" y="627.62" width="21.42" height="21.38" fill="#eae9f3"/>
<rect x="145.50" y="627.62" width="21.42" height="21.38" fill="#e8e7f2"/>
<rect x="166.52" y="627.62" width="21.42" height="21.38" fill="#e6e5f1"/>
<rect x="187.54" y="627.62" width="21.42" height="21.38" fill="#e6e5f1"/>
<rect x="208.56" y="627.62" width="21.42" height="21.38" fill="#e3e2ef"/>
<rect x="229.58" y="627.62" width="21.42" height="21.38" fill="#e1e0ee"/>
<rect x="250.60" y="627.62" width="21.42" height="21.38" fill="#dbdbec"/>
<rect x="271.62" y="627.62" width="21.42" height="21.38" fill="#d7d7e9"/>
<rect x="292.64" y="627.62" width="21.42" height="21.38" fill="#d3d3e8"/>
<rect x="313.66" y="627.62" width="21.42" height="21.38" fill="#d6d6e9"/>
<rect x="334.68" y="627.62" width="21.42" height="21.38" fill="#eeecf5"/>
<rect x="355.70" y="627.62" width="21.42" height="21.38" fill="#eeecf5"/>
<rect x="376.72" y="627.62" width="21.42" height="21.38" fill="#efedf5"/>
<rect x="397.74" y="627.62" width="21.42" height="21.38" fill="#f4f2f8"/>
<rect x="418.76" y="627.62" width="21.42" height="21.38" fill="#f6f4f9"/>
<rect x="439.78" y="627.62" width="21.42" height="21.38" fill="#f5f4f9"/>
<rect x="460.80" y="627.62" width="21.42" height="21.38" fill="#f9f7fb"/>
<rect x="481.82" y="627.62" width="21.42" height="21.38" fill="#faf9fc"/>
<rect x="502.84" y="627.62" width="21.42" height="21.38" fill="#faf9fc"/>
<rect x="523.86" y="627.62" width="21.42" height="21.38" fill="#faf9fc"/>
<rect x="544.88" y="627.62" width="21.42" height="21.38" fill="#f8f6fa"/>
<rect x="565.90" y="627.62" width="21.42" height="21.38" fill="#f4f2f8"/>
<g font-family='"Liberation Sans", sans-serif' font-size="8.40" fill="#383838" stroke="#383838" stroke-width="0.12"><text x="85.16" y="30.09" textLength="15.59" lengthAdjust="spacingAndGlyphs">33.7</text><text x="106.18" y="30.09" textLength="15.59" lengthAdjust="spacingAndGlyphs">41.2</text><text x="463.52" y="30.09" textLength="15.59" lengthAdjust="spacingAndGlyphs">29.9</text><text x="484.54" y="30.09" textLength="15.59" lengthAdjust="spacingAndGlyphs">23.2</text><text x="505.56" y="30.09" textLength="15.59" lengthAdjust="spacingAndGlyphs">14.6</text><text x="526.58" y="30.09" textLength="15.59" lengthAdjust="spacingAndGlyphs">12.3</text><text x="547.60" y="30.09" textLength="15.59" lengthAdjust="spacingAndGlyphs">16.0</text><text x="568.62" y="30.09" textLength="15.59" lengthAdjust="spacingAndGlyphs">23.7</text><text x="85.16" y="51.07" textLength="15.59" lengthAdjust="spacingAndGlyphs">28.1</text><text x="106.18" y="51.07" textLength="15.59" lengthAdjust="spacingAndGlyphs">42.2</text><text x="463.52" y="51.07" textLength="15.59" lengthAdjust="spacingAndGlyphs">33.9</text><text x="484.54" y="51.07" textLength="15.59" lengthAdjust="spacingAndGlyphs">21.7</text><text x="505.56" y="51.07" textLength="15.59" lengthAdjust="spacingAndGlyphs">19.7</text><text x="526.58" y="51.07" textLength="15.59" lengthAdjust="spacingAndGlyphs">14.0</text><text x="547.60" y="51.07" textLength="15.59" lengthAdjust="spacingAndGlyphs">11.5</text><text x="568.62" y="51.07" textLength="15.59" lengthAdjust="spacingAndGlyphs">20.6</text><text x="85.16" y="72.05" textLength="15.59" lengthAdjust="spacingAndGlyphs">27.7</text><text x="106.18" y="72.05" textLength="15.59" lengthAdjust="spacingAndGlyphs">39.2</text><text x="442.50" y="72.05" textLength="15.59" lengthAdjust="spacingAndGlyphs">49.4</text><text x="463.52" y="72.05" textLength="15.59" lengthAdjust="spacingAndGlyphs">25.7</text><text x="484.54" y="72.05" textLength="15.59" lengthAdjust="spacingAndGlyphs">19.2</text><text x="505.56" y="72.05" textLength="15.59" lengthAdjust="spacingAndGlyphs">11.3</text><text x="526.58" y="72.05" textLength="15.59" lengthAdjust="spacingAndGlyphs">10.7</text><text x="547.60" y="72.05" textLength="15.59" lengthAdjust="spacingAndGlyphs">14.8</text><text x="568.62" y="72.05" textLength="15.59" lengthAdjust="spacingAndGlyphs">19.9</text><text x="85.16" y="93.03" textLength="15.59" lengthAdjust="spacingAndGlyphs">25.2</text><text x="106.18" y="93.03" textLength="15.59" lengthAdjust="spacingAndGlyphs">36.5</text><text x="127.20" y="93.03" textLength="15.59" lengthAdjust="spacingAndGlyphs">49.9</text><text x="421.48" y="93.03" textLength="15.59" lengthAdjust="spacingAndGlyphs">49.9</text><text x="442.50" y="93.03" textLength="15.59" lengthAdjust="spacingAndGlyphs">32.4</text><text x="463.52" y="93.03" textLength="15.59" lengthAdjust="spacingAndGlyphs">19.7</text><text x="484.54" y="93.03" textLength="15.59" lengthAdjust="spacingAndGlyphs">13.1</text><text x="505.56" y="93.03" textLength="15.59" lengthAdjust="spacingAndGlyphs">14.6</text><text x="526.58" y="93.03" textLength="15.59" lengthAdjust="spacingAndGlyphs">12.5</text><text x="547.60" y="93.03" textLength="15.59" lengthAdjust="spacingAndGlyphs">15.5</text><text x="568.62" y="93.03" textLength="15.59" lengthAdjust="spacingAndGlyphs">26.2</text><text x="85.16" y="114.01" textLength="15.59" lengthAdjust="spacingAndGlyphs">23.3</text><text x="106.18" y="114.01" textLength="15.59" lengthAdjust="spacingAndGlyphs">32.1</text><text x="127.20" y="114.01" textLength="15.59" lengthAdjust="spacingAndGlyphs">43.3</text><text x="463.52" y="114.01" textLength="15.59" lengthAdjust="spacingAndGlyphs">30.6</text><text x="484.54" y="114.01" textLength="15.59" lengthAdjust="spacingAndGlyphs">20.2</text><text x="505.56" y="114.01" textLength="15.59" lengthAdjust="spacingAndGlyphs">18.1</text><text x="526.58" y="114.01" textLength="15.59" lengthAdjust="spacingAndGlyphs">12.1</text><text x="547.60" y="114.01" textLength="15.59" lengthAdjust="spacingAndGlyphs">10.9</text><text x="568.62" y="114.01" textLength="15.59" lengthAdjust="spacingAndGlyphs">20.7</text><text x="85.16" y="134.99" textLength="15.59" lengthAdjust="spacingAndGlyphs">19.7</text><text x="106.18" y="134.99" textLength="15.59" lengthAdjust="spacingAndGlyphs">27.0</text><text x="127.20" y="134.99" textLength="15.59" lengthAdjust="spacingAndGlyphs">36.9</text><text x="148.22" y="134.99" textLength="15.59" lengthAdjust="spacingAndGlyphs">44.4</text><text x="442.50" y="134.99" textLength="15.59" lengthAdjust="spacingAndGlyphs">39.4</text><text x="463.52" y="134.99" textLength="15.59" lengthAdjust="spacingAndGlyphs">21.9</text><text x="484.54" y="134.99" textLength="15.59" lengthAdjust="spacingAndGlyphs">11.2</text><text x="505.56" y="134.99" textLength="15.59" lengthAdjust="spacingAndGlyphs">10.8</text><text x="528.80" y="134.99" textLength="11.13" lengthAdjust="spacingAndGlyphs">9.4</text><text x="549.82" y="134.99" textLength="11.13" lengthAdjust="spacingAndGlyphs">8.9</text><text x="568.62" y="134.99" textLength="15.59" lengthAdjust="spacingAndGlyphs">14.9</text><text x="85.16" y="155.97" textLength="15.59" lengthAdjust="spacingAndGlyphs">15.3</text><text x="106.18" y="155.97" textLength="15.59" lengthAdjust="spacingAndGlyphs">21.0</text><text x="127.20" y="155.97" textLength="15.59" lengthAdjust="spacingAndGlyphs">27.3</text><text x="148.22" y="155.97" textLength="15.59" lengthAdjust="spacingAndGlyphs">34.9</text><text x="169.24" y="155.97" textLength="15.59" lengthAdjust="spacingAndGlyphs">37.5</text><text x="190.26" y="155.97" textLength="15.59" lengthAdjust="spacingAndGlyphs">41.0</text><text x="211.28" y="155.97" textLength="15.59" lengthAdjust="spacingAndGlyphs">46.7</text><text x="379.44" y="155.97" textLength="15.59" lengthAdjust="spacingAndGlyphs">47.1</text><text x="400.46" y="155.97" textLength="15.59" lengthAdjust="spacingAndGlyphs">46.5</text><text x="421.48" y="155.97" textLength="15.59" lengthAdjust="spacingAndGlyphs">40.1</text><text x="442.50" y="155.97" textLength="15.59" lengthAdjust="spacingAndGlyphs">30.9</text><text x="463.52" y="155.97" textLength="15.59" lengthAdjust="spacingAndGlyphs">19.4</text><text x="484.54" y="155.97" textLength="15.59" lengthAdjust="spacingAndGlyphs">11.2</text><text x="505.56" y="155.97" textLength="15.59" lengthAdjust="spacingAndGlyphs">10.7</text><text x="528.80" y="155.97" textLength="11.13" lengthAdjust="spacingAndGlyphs">9.5</text><text x="549.82" y="155.97" textLength="11.13" lengthAdjust="spacingAndGlyphs">7.4</text><text x="568.62" y="155.97" textLength="15.59" lengthAdjust="spacingAndGlyphs">14.5</text><text x="85.16" y="176.95" textLength="15.59" lengthAdjust="spacingAndGlyphs">14.2</text><text x="106.18" y="176.95" textLength="15.59" lengthAdjust="spacingAndGlyphs">16.2</text><text x="127.20" y="176.95" textLength="15.59" lengthAdjust="spacingAndGlyphs">17.9</text><text x="148.22" y="176.95" textLength="15.59" lengthAdjust="spacingAndGlyphs">19.2</text><text x="169.24" y="176.95" textLength="15.59" lengthAdjust="spacingAndGlyphs">21.4</text><text x="190.26" y="176.95" textLength="15.59" lengthAdjust="spacingAndGlyphs">27.3</text><text x="211.28" y="176.95" textLength="15.59" lengthAdjust="spacingAndGlyphs">30.6</text><text x="232.30" y="176.95" textLength="15.59" lengthAdjust="spacingAndGlyphs">33.3</text><text x="253.32" y="176.95" textLength="15.59" lengthAdjust="spacingAndGlyphs">34.7</text><text x="274.34" y="176.95" textLength="15.59" lengthAdjust="spacingAndGlyphs">30.9</text><text x="295.36" y="176.95" textLength="15.59" lengthAdjust="spacingAndGlyphs">32.2</text><text x="316.38" y="176.95" textLength="15.59" lengthAdjust="spacingAndGlyphs">32.2</text><text x="337.40" y="176.95" textLength="15.59" lengthAdjust="spacingAndGlyphs">34.5</text><text x="358.42" y="176.95" textLength="15.59" lengthAdjust="spacingAndGlyphs">35.7</text><text x="379.44" y="176.95" textLength="15.59" lengthAdjust="spacingAndGlyphs">30.9</text><text x="400.46" y="176.95" textLength="15.59" lengthAdjust="spacingAndGlyphs">25.9</text><text x="421.48" y="176.95" textLength="15.59" lengthAdjust="spacingAndGlyphs">18.4</text><text x="444.72" y="176.95" textLength="11.13" lengthAdjust="spacingAndGlyphs">8.5</text><text x="465.74" y="176.95" textLength="11.13" lengthAdjust="spacingAndGlyphs">9.9</text><text x="486.76" y="176.95" textLength="11.13" lengthAdjust="spacingAndGlyphs">6.2</text><text x="507.78" y="176.95" textLength="11.13" lengthAdjust="spacingAndGlyphs">6.5</text><text x="528.80" y="176.95" textLength="11.13" lengthAdjust="spacingAndGlyphs">7.2</text><text x="549.82" y="176.95" textLength="11.13" lengthAdjust="spacingAndGlyphs">9.1</text><text x="568.62" y="176.95" textLength="15.59" lengthAdjust="spacingAndGlyphs">13.1</text><text x="85.16" y="197.93" textLength="15.59" lengthAdjust="spacingAndGlyphs">12.7</text><text x="106.18" y="197.93" textLength="15.59" lengthAdjust="spacingAndGlyphs">15.7</text><text x="127.20" y="197.93" textLength="15.59" lengthAdjust="spacingAndGlyphs">19.2</text><text x="148.22" y="197.93" textLength="15.59" lengthAdjust="spacingAndGlyphs">21.4</text><text x="169.24" y="197.93" textLength="15.59" lengthAdjust="spacingAndGlyphs">23.5</text><text x="190.26" y="197.93" textLength="15.59" lengthAdjust="spacingAndGlyphs">25.8</text><text x="211.28" y="197.93" textLength="15.59" lengthAdjust="spacingAndGlyphs">27.2</text><text x="232.30" y="197.93" textLength="15.59" lengthAdjust="spacingAndGlyphs">30.7</text><text x="253.32" y="197.93" textLength="15.59" lengthAdjust="spacingAndGlyphs">29.1</text><text x="274.34" y="197.93" textLength="15.59" lengthAdjust="spacingAndGlyphs">28.9</text><text x="295.36" y="197.93" textLength="15.59" lengthAdjust="spacingAndGlyphs">24.1</text><text x="316.38" y="197.93" textLength="15.59" lengthAdjust="spacingAndGlyphs">25.6</text><text x="337.40" y="197.93" textLength="15.59" lengthAdjust="spacingAndGlyphs">25.0</text><text x="358.42" y="197.93" textLength="15.59" lengthAdjust="spacingAndGlyphs">24.7</text><text x="379.44" y="197.93" textLength="15.59" lengthAdjust="spacingAndGlyphs">28.1</text><text x="400.46" y="197.93" textLength="15.59" lengthAdjust="spacingAndGlyphs">20.1</text><text x="421.48" y="197.93" textLength="15.59" lengthAdjust="spacingAndGlyphs">18.0</text><text x="442.50" y="197.93" textLength="15.59" lengthAdjust="spacingAndGlyphs">14.4</text><text x="463.52" y="197.93" textLength="15.59" lengthAdjust="spacingAndGlyphs">10.6</text><text x="486.76" y="197.93" textLength="11.13" lengthAdjust="spacingAndGlyphs">9.2</text><text x="507.78" y="197.93" textLength="11.13" lengthAdjust="spacingAndGlyphs">8.4</text><text x="528.80" y="197.93" textLength="11.13" lengthAdjust="spacingAndGlyphs">7.3</text><text x="547.60" y="197.93" textLength="15.59" lengthAdjust="spacingAndGlyphs">10.5</text><text x="568.62" y="197.93" textLength="15.59" lengthAdjust="spacingAndGlyphs">13.2</text><text x="85.16" y="218.91" textLength="15.59" lengthAdjust="spacingAndGlyphs">12.7</text><text x="106.18" y="218.91" textLength="15.59" lengthAdjust="spacingAndGlyphs">16.2</text><text x="127.20" y="218.91" textLength="15.59" lengthAdjust="spacingAndGlyphs">18.1</text><text x="148.22" y="218.91" textLength="15.59" lengthAdjust="spacingAndGlyphs">20.1</text><text x="169.24" y="218.91" textLength="15.59" lengthAdjust="spacingAndGlyphs">21.1</text><text x="190.26" y="218.91" textLength="15.59" lengthAdjust="spacingAndGlyphs">24.0</text><text x="211.28" y="218.91" textLength="15.59" lengthAdjust="spacingAndGlyphs">28.9</text><text x="232.30" y="218.91" textLength="15.59" lengthAdjust="spacingAndGlyphs">30.1</text><text x="253.32" y="218.91" textLength="15.59" lengthAdjust="spacingAndGlyphs">32.1</text><text x="274.34" y="218.91" textLength="15.59" lengthAdjust="spacingAndGlyphs">30.5</text><text x="295.36" y="218.91" textLength="15.59" lengthAdjust="spacingAndGlyphs">29.4</text><text x="316.38" y="218.91" textLength="15.59" lengthAdjust="spacingAndGlyphs">28.1</text><text x="337.40" y="218.91" textLength="15.59" lengthAdjust="spacingAndGlyphs">28.7</text><text x="358.42" y="218.91" textLength="15.59" lengthAdjust="spacingAndGlyphs">26.2</text><text x="379.44" y="218.91" textLength="15.59" lengthAdjust="spacingAndGlyphs">24.3</text><text x="400.46" y="218.91" textLength="15.59" lengthAdjust="spacingAndGlyphs">22.2</text><text x="421.48" y="218.91" textLength="15.59" lengthAdjust="spacingAndGlyphs">16.8</text><text x="444.72" y="218.91" textLength="11.13" lengthAdjust="spacingAndGlyphs">9.6</text><text x="465.74" y="218.91" textLength="11.13" lengthAdjust="spacingAndGlyphs">7.4</text><text x="486.76" y="218.91" textLength="11.13" lengthAdjust="spacingAndGlyphs">5.2</text><text x="507.78" y="218.91" textLength="11.13" lengthAdjust="spacingAndGlyphs">4.6</text><text x="528.80" y="218.91" textLength="11.13" lengthAdjust="spacingAndGlyphs">4.6</text><text x="549.82" y="218.91" textLength="11.13" lengthAdjust="spacingAndGlyphs">7.1</text><text x="568.62" y="218.91" textLength="15.59" lengthAdjust="spacingAndGlyphs">10.0</text><text x="85.16" y="239.89" textLength="15.59" lengthAdjust="spacingAndGlyphs">12.2</text><text x="106.18" y="239.89" textLength="15.59" lengthAdjust="spacingAndGlyphs">15.6</text><text x="127.20" y="239.89" textLength="15.59" lengthAdjust="spacingAndGlyphs">18.4</text><text x="148.22" y="239.89" textLength="15.59" lengthAdjust="spacingAndGlyphs">19.6</text><text x="169.24" y="239.89" textLength="15.59" lengthAdjust="spacingAndGlyphs">20.9</text><text x="190.26" y="239.89" textLength="15.59" lengthAdjust="spacingAndGlyphs">24.7</text><text x="211.28" y="239.89" textLength="15.59" lengthAdjust="spacingAndGlyphs">27.6</text><text x="232.30" y="239.89" textLength="15.59" lengthAdjust="spacingAndGlyphs">29.3</text><text x="253.32" y="239.89" textLength="15.59" lengthAdjust="spacingAndGlyphs">30.3</text><text x="274.34" y="239.89" textLength="15.59" lengthAdjust="spacingAndGlyphs">29.9</text><text x="295.36" y="239.89" textLength="15.59" lengthAdjust="spacingAndGlyphs">28.4</text><text x="316.38" y="239.89" textLength="15.59" lengthAdjust="spacingAndGlyphs">27.2</text><text x="337.40" y="239.89" textLength="15.59" lengthAdjust="spacingAndGlyphs">27.7</text><text x="358.42" y="239.89" textLength="15.59" lengthAdjust="spacingAndGlyphs">27.7</text><text x="379.44" y="239.89" textLength="15.59" lengthAdjust="spacingAndGlyphs">27.5</text><text x="400.46" y="239.89" textLength="15.59" lengthAdjust="spacingAndGlyphs">24.5</text><text x="421.48" y="239.89" textLength="15.59" lengthAdjust="spacingAndGlyphs">20.5</text><text x="442.50" y="239.89" textLength="15.59" lengthAdjust="spacingAndGlyphs">18.4</text><text x="463.52" y="239.89" textLength="15.59" lengthAdjust="spacingAndGlyphs">10.3</text><text x="486.76" y="239.89" textLength="11.13" lengthAdjust="spacingAndGlyphs">6.2</text><text x="507.78" y="239.89" textLength="11.13" lengthAdjust="spacingAndGlyphs">5.1</text><text x="528.80" y="239.89" textLength="11.13" lengthAdjust="spacingAndGlyphs">4.3</text><text x="549.82" y="239.89" textLength="11.13" lengthAdjust="spacingAndGlyphs">5.2</text><text x="570.84" y="239.89" textLength="11.13" lengthAdjust="spacingAndGlyphs">9.3</text><text x="85.16" y="260.87" textLength="15.59" lengthAdjust="spacingAndGlyphs">13.5</text><text x="106.18" y="260.87" textLength="15.59" lengthAdjust="spacingAndGlyphs">16.4</text><text x="127.20" y="260.87" textLength="15.59" lengthAdjust="spacingAndGlyphs">17.4</text><text x="148.22" y="260.87" textLength="15.59" lengthAdjust="spacingAndGlyphs">19.1</text><text x="169.24" y="260.87" textLength="15.59" lengthAdjust="spacingAndGlyphs">20.5</text><text x="190.26" y="260.87" textLength="15.59" lengthAdjust="spacingAndGlyphs">23.8</text><text x="211.28" y="260.87" textLength="15.59" lengthAdjust="spacingAndGlyphs">27.9</text><text x="232.30" y="260.87" textLength="15.59" lengthAdjust="spacingAndGlyphs">28.0</text><text x="253.32" y="260.87" textLength="15.59" lengthAdjust="spacingAndGlyphs">28.2</text><text x="274.34" y="260.87" textLength="15.59" lengthAdjust="spacingAndGlyphs">28.3</text><text x="295.36" y="260.87" textLength="15.59" lengthAdjust="spacingAndGlyphs">28.2</text><text x="316.38" y="260.87" textLength="15.59" lengthAdjust="spacingAndGlyphs">27.1</text><text x="337.40" y="260.87" textLength="15.59" lengthAdjust="spacingAndGlyphs">25.5</text><text x="358.42" y="260.87" textLength="15.59" lengthAdjust="spacingAndGlyphs">24.1</text><text x="379.44" y="260.87" textLength="15.59" lengthAdjust="spacingAndGlyphs">20.1</text><text x="400.46" y="260.87" textLength="15.59" lengthAdjust="spacingAndGlyphs">14.2</text><text x="421.48" y="260.87" textLength="15.59" lengthAdjust="spacingAndGlyphs">12.1</text><text x="442.50" y="260.87" textLength="15.59" lengthAdjust="spacingAndGlyphs">10.9</text><text x="465.74" y="260.87" textLength="11.13" lengthAdjust="spacingAndGlyphs">9.2</text><text x="486.76" y="260.87" textLength="11.13" lengthAdjust="spacingAndGlyphs">5.9</text><text x="507.78" y="260.87" textLength="11.13" lengthAdjust="spacingAndGlyphs">5.6</text><text x="528.80" y="260.87" textLength="11.13" lengthAdjust="spacingAndGlyphs">5.3</text><text x="549.82" y="260.87" textLength="11.13" lengthAdjust="spacingAndGlyphs">8.0</text><text x="570.84" y="260.87" textLength="11.13" lengthAdjust="spacingAndGlyphs">9.7</text><text x="85.16" y="281.85" textLength="15.59" lengthAdjust="spacingAndGlyphs">13.0</text><text x="106.18" y="281.85" textLength="15.59" lengthAdjust="spacingAndGlyphs">15.2</text><text x="127.20" y="281.85" textLength="15.59" lengthAdjust="spacingAndGlyphs">18.1</text><text x="148.22" y="281.85" textLength="15.59" lengthAdjust="spacingAndGlyphs">19.8</text><text x="169.24" y="281.85" textLength="15.59" lengthAdjust="spacingAndGlyphs">21.8</text><text x="190.26" y="281.85" textLength="15.59" lengthAdjust="spacingAndGlyphs">24.6</text><text x="211.28" y="281.85" textLength="15.59" lengthAdjust="spacingAndGlyphs">27.2</text><text x="232.30" y="281.85" textLength="15.59" lengthAdjust="spacingAndGlyphs">30.6</text><text x="253.32" y="281.85" textLength="15.59" lengthAdjust="spacingAndGlyphs">31.8</text><text x="274.34" y="281.85" textLength="15.59" lengthAdjust="spacingAndGlyphs">29.2</text><text x="295.36" y="281.85" textLength="15.59" lengthAdjust="spacingAndGlyphs">28.3</text><text x="316.38" y="281.85" textLength="15.59" lengthAdjust="spacingAndGlyphs">27.1</text><text x="337.40" y="281.85" textLength="15.59" lengthAdjust="spacingAndGlyphs">27.0</text><text x="358.42" y="281.85" textLength="15.59" lengthAdjust="spacingAndGlyphs">27.2</text><text x="379.44" y="281.85" textLength="15.59" lengthAdjust="spacingAndGlyphs">24.6</text><text x="400.46" y="281.85" textLength="15.59" lengthAdjust="spacingAndGlyphs">20.7</text><text x="421.48" y="281.85" textLength="15.59" lengthAdjust="spacingAndGlyphs">19.4</text><text x="442.50" y="281.85" textLength="15.59" lengthAdjust="spacingAndGlyphs">12.1</text><text x="465.74" y="281.85" textLength="11.13" lengthAdjust="spacingAndGlyphs">9.2</text><text x="486.76" y="281.85" textLength="11.13" lengthAdjust="spacingAndGlyphs">6.2</text><text x="507.78" y="281.85" textLength="11.13" lengthAdjust="spacingAndGlyphs">6.5</text><text x="528.80" y="281.85" textLength="11.13" lengthAdjust="spacingAndGlyphs">8.6</text><text x="549.82" y="281.85" textLength="11.13" lengthAdjust="spacingAndGlyphs">9.4</text><text x="568.62" y="281.85" textLength="15.59" lengthAdjust="spacingAndGlyphs">10.2</text><text x="85.16" y="302.83" textLength="15.59" lengthAdjust="spacingAndGlyphs">13.7</text><text x="106.18" y="302.83" textLength="15.59" lengthAdjust="spacingAndGlyphs">16.2</text><text x="127.20" y="302.83" textLength="15.59" lengthAdjust="spacingAndGlyphs">17.9</text><text x="148.22" y="302.83" textLength="15.59" lengthAdjust="spacingAndGlyphs">19.4</text><text x="169.24" y="302.83" textLength="15.59" lengthAdjust="spacingAndGlyphs">20.8</text><text x="190.26" y="302.83" textLength="15.59" lengthAdjust="spacingAndGlyphs">23.2</text><text x="211.28" y="302.83" textLength="15.59" lengthAdjust="spacingAndGlyphs">27.1</text><text x="232.30" y="302.83" textLength="15.59" lengthAdjust="spacingAndGlyphs">29.5</text><text x="253.32" y="302.83" textLength="15.59" lengthAdjust="spacingAndGlyphs">30.7</text><text x="274.34" y="302.83" textLength="15.59" lengthAdjust="spacingAndGlyphs">29.5</text><text x="295.36" y="302.83" textLength="15.59" lengthAdjust="spacingAndGlyphs">28.2</text><text x="316.38" y="302.83" textLength="15.59" lengthAdjust="spacingAndGlyphs">27.7</text><text x="337.40" y="302.83" textLength="15.59" lengthAdjust="spacingAndGlyphs">28.2</text><text x="358.42" y="302.83" textLength="15.59" lengthAdjust="spacingAndGlyphs">27.6</text><text x="379.44" y="302.83" textLength="15.59" lengthAdjust="spacingAndGlyphs">24.9</text><text x="400.46" y="302.83" textLength="15.59" lengthAdjust="spacingAndGlyphs">20.2</text><text x="421.48" y="302.83" textLength="15.59" lengthAdjust="spacingAndGlyphs">18.4</text><text x="442.50" y="302.83" textLength="15.59" lengthAdjust="spacingAndGlyphs">12.5</text><text x="465.74" y="302.83" textLength="11.13" lengthAdjust="spacingAndGlyphs">9.0</text><text x="486.76" y="302.83" textLength="11.13" lengthAdjust="spacingAndGlyphs">5.0</text><text x="507.78" y="302.83" textLength="11.13" lengthAdjust="spacingAndGlyphs">4.9</text><text x="528.80" y="302.83" textLength="11.13" lengthAdjust="spacingAndGlyphs">6.2</text><text x="549.82" y="302.83" textLength="11.13" lengthAdjust="spacingAndGlyphs">5.2</text><text x="570.84" y="302.83" textLength="11.13" lengthAdjust="spacingAndGlyphs">8.0</text><text x="85.16" y="323.81" textLength="15.59" lengthAdjust="spacingAndGlyphs">15.0</text><text x="106.18" y="323.81" textLength="15.59" lengthAdjust="spacingAndGlyphs">15.1</text><text x="127.20" y="323.81" textLength="15.59" lengthAdjust="spacingAndGlyphs">17.1</text><text x="148.22" y="323.81" textLength="15.59" lengthAdjust="spacingAndGlyphs">20.2</text><text x="169.24" y="323.81" textLength="15.59" lengthAdjust="spacingAndGlyphs">21.7</text><text x="190.26" y="323.81" textLength="15.59" lengthAdjust="spacingAndGlyphs">24.0</text><text x="211.28" y="323.81" textLength="15.59" lengthAdjust="spacingAndGlyphs">27.0</text><text x="232.30" y="323.81" textLength="15.59" lengthAdjust="spacingAndGlyphs">30.1</text><text x="253.32" y="323.81" textLength="15.59" lengthAdjust="spacingAndGlyphs">30.8</text><text x="274.34" y="323.81" textLength="15.59" lengthAdjust="spacingAndGlyphs">30.9</text><text x="295.36" y="323.81" textLength="15.59" lengthAdjust="spacingAndGlyphs">30.4</text><text x="316.38" y="323.81" textLength="15.59" lengthAdjust="spacingAndGlyphs">29.1</text><text x="337.40" y="323.81" textLength="15.59" lengthAdjust="spacingAndGlyphs">28.0</text><text x="358.42" y="323.81" textLength="15.59" lengthAdjust="spacingAndGlyphs">27.5</text><text x="379.44" y="323.81" textLength="15.59" lengthAdjust="spacingAndGlyphs">16.8</text><text x="400.46" y="323.81" textLength="15.59" lengthAdjust="spacingAndGlyphs">15.1</text><text x="421.48" y="323.81" textLength="15.59" lengthAdjust="spacingAndGlyphs">14.7</text><text x="442.50" y="323.81" textLength="15.59" lengthAdjust="spacingAndGlyphs">10.0</text><text x="465.74" y="323.81" textLength="11.13" lengthAdjust="spacingAndGlyphs">8.9</text><text x="486.76" y="323.81" textLength="11.13" lengthAdjust="spacingAndGlyphs">7.2</text><text x="507.78" y="323.81" textLength="11.13" lengthAdjust="spacingAndGlyphs">5.1</text><text x="528.80" y="323.81" textLength="11.13" lengthAdjust="spacingAndGlyphs">7.9</text><text x="549.82" y="323.81" textLength="11.13" lengthAdjust="spacingAndGlyphs">8.0</text><text x="570.84" y="323.81" textLength="11.13" lengthAdjust="spacingAndGlyphs">8.9</text><text x="85.16" y="344.79" textLength="15.59" lengthAdjust="spacingAndGlyphs">12.7</text><text x="106.18" y="344.79" textLength="15.59" lengthAdjust="spacingAndGlyphs">16.2</text><text x="127.20" y="344.79" textLength="15.59" lengthAdjust="spacingAndGlyphs">18.1</text><text x="148.22" y="344.79" textLength="15.59" lengthAdjust="spacingAndGlyphs">20.1</text><text x="169.24" y="344.79" textLength="15.59" lengthAdjust="spacingAndGlyphs">22.7</text><text x="190.26" y="344.79" textLength="15.59" lengthAdjust="spacingAndGlyphs">24.2</text><text x="211.28" y="344.79" textLength="15.59" lengthAdjust="spacingAndGlyphs">27.1</text><text x="232.30" y="344.79" textLength="15.59" lengthAdjust="spacingAndGlyphs">29.7</text><text x="253.32" y="344.79" textLength="15.59" lengthAdjust="spacingAndGlyphs">30.4</text><text x="274.34" y="344.79" textLength="15.59" lengthAdjust="spacingAndGlyphs">29.1</text><text x="295.36" y="344.79" textLength="15.59" lengthAdjust="spacingAndGlyphs">28.5</text><text x="316.38" y="344.79" textLength="15.59" lengthAdjust="spacingAndGlyphs">27.0</text><text x="337.40" y="344.79" textLength="15.59" lengthAdjust="spacingAndGlyphs">28.0</text><text x="358.42" y="344.79" textLength="15.59" lengthAdjust="spacingAndGlyphs">27.4</text><text x="379.44" y="344.79" textLength="15.59" lengthAdjust="spacingAndGlyphs">28.1</text><text x="400.46" y="344.79" textLength="15.59" lengthAdjust="spacingAndGlyphs">25.0</text><text x="421.48" y="344.79" textLength="15.59" lengthAdjust="spacingAndGlyphs">21.9</text><text x="442.50" y="344.79" textLength="15.59" lengthAdjust="spacingAndGlyphs">16.0</text><text x="463.52" y="344.79" textLength="15.59" lengthAdjust="spacingAndGlyphs">10.5</text><text x="486.76" y="344.79" textLength="11.13" lengthAdjust="spacingAndGlyphs">6.4</text><text x="507.78" y="344.79" textLength="11.13" lengthAdjust="spacingAndGlyphs">4.5</text><text x="528.80" y="344.79" textLength="11.13" lengthAdjust="spacingAndGlyphs">5.7</text><text x="549.82" y="344.79" textLength="11.13" lengthAdjust="spacingAndGlyphs">6.2</text><text x="570.84" y="344.79" textLength="11.13" lengthAdjust="spacingAndGlyphs">7.8</text><text x="85.16" y="365.77" textLength="15.59" lengthAdjust="spacingAndGlyphs">13.0</text><text x="106.18" y="365.77" textLength="15.59" lengthAdjust="spacingAndGlyphs">16.4</text><text x="127.20" y="365.77" textLength="15.59" lengthAdjust="spacingAndGlyphs">17.5</text><text x="148.22" y="365.77" textLength="15.59" lengthAdjust="spacingAndGlyphs">19.8</text><text x="169.24" y="365.77" textLength="15.59" lengthAdjust="spacingAndGlyphs">21.2</text><text x="190.26" y="365.77" textLength="15.59" lengthAdjust="spacingAndGlyphs">23.4</text><text x="211.28" y="365.77" textLength="15.59" lengthAdjust="spacingAndGlyphs">27.5</text><text x="232.30" y="365.77" textLength="15.59" lengthAdjust="spacingAndGlyphs">28.7</text><text x="253.32" y="365.77" textLength="15.59" lengthAdjust="spacingAndGlyphs">28.3</text><text x="274.34" y="365.77" textLength="15.59" lengthAdjust="spacingAndGlyphs">28.9</text><text x="295.36" y="365.77" textLength="15.59" lengthAdjust="spacingAndGlyphs">26.8</text><text x="316.38" y="365.77" textLength="15.59" lengthAdjust="spacingAndGlyphs">27.5</text><text x="337.40" y="365.77" textLength="15.59" lengthAdjust="spacingAndGlyphs">27.0</text><text x="358.42" y="365.77" textLength="15.59" lengthAdjust="spacingAndGlyphs">27.5</text><text x="379.44" y="365.77" textLength="15.59" lengthAdjust="spacingAndGlyphs">27.1</text><text x="400.46" y="365.77" textLength="15.59" lengthAdjust="spacingAndGlyphs">24.8</text><text x="421.48" y="365.77" textLength="15.59" lengthAdjust="spacingAndGlyphs">20.9</text><text x="442.50" y="365.77" textLength="15.59" lengthAdjust="spacingAndGlyphs">18.0</text><text x="463.52" y="365.77" textLength="15.59" lengthAdjust="spacingAndGlyphs">10.0</text><text x="486.76" y="365.77" textLength="11.13" lengthAdjust="spacingAndGlyphs">8.5</text><text x="507.78" y="365.77" textLength="11.13" lengthAdjust="spacingAndGlyphs">7.0</text><text x="528.80" y="365.77" textLength="11.13" lengthAdjust="spacingAndGlyphs">6.1</text><text x="549.82" y="365.77" textLength="11.13" lengthAdjust="spacingAndGlyphs">8.4</text><text x="568.62" y="365.77" textLength="15.59" lengthAdjust="spacingAndGlyphs">11.3</text><text x="85.16" y="386.75" textLength="15.59" lengthAdjust="spacingAndGlyphs">15.5</text><text x="106.18" y="386.75" textLength="15.59" lengthAdjust="spacingAndGlyphs">14.3</text><text x="127.20" y="386.75" textLength="15.59" lengthAdjust="spacingAndGlyphs">19.0</text><text x="148.22" y="386.75" textLength="15.59" lengthAdjust="spacingAndGlyphs">20.3</text><text x="169.24" y="386.75" textLength="15.59" lengthAdjust="spacingAndGlyphs">22.7</text><text x="190.26" y="386.75" textLength="15.59" lengthAdjust="spacingAndGlyphs">25.4</text><text x="211.28" y="386.75" textLength="15.59" lengthAdjust="spacingAndGlyphs">27.9</text><text x="232.30" y="386.75" textLength="15.59" lengthAdjust="spacingAndGlyphs">28.7</text><text x="253.32" y="386.75" textLength="15.59" lengthAdjust="spacingAndGlyphs">29.8</text><text x="274.34" y="386.75" textLength="15.59" lengthAdjust="spacingAndGlyphs">30.3</text><text x="295.36" y="386.75" textLength="15.59" lengthAdjust="spacingAndGlyphs">31.1</text><text x="316.38" y="386.75" textLength="15.59" lengthAdjust="spacingAndGlyphs">30.9</text><text x="337.40" y="386.75" textLength="15.59" lengthAdjust="spacingAndGlyphs">31.5</text><text x="358.42" y="386.75" textLength="15.59" lengthAdjust="spacingAndGlyphs">28.9</text><text x="379.44" y="386.75" textLength="15.59" lengthAdjust="spacingAndGlyphs">30.1</text><text x="400.46" y="386.75" textLength="15.59" lengthAdjust="spacingAndGlyphs">29.5</text><text x="421.48" y="386.75" textLength="15.59" lengthAdjust="spacingAndGlyphs">25.9</text><text x="442.50" y="386.75" textLength="15.59" lengthAdjust="spacingAndGlyphs">19.5</text><text x="463.52" y="386.75" textLength="15.59" lengthAdjust="spacingAndGlyphs">11.2</text><text x="486.76" y="386.75" textLength="11.13" lengthAdjust="spacingAndGlyphs">6.2</text><text x="507.78" y="386.75" textLength="11.13" lengthAdjust="spacingAndGlyphs">4.6</text><text x="528.80" y="386.75" textLength="11.13" lengthAdjust="spacingAndGlyphs">6.3</text><text x="549.82" y="386.75" textLength="11.13" lengthAdjust="spacingAndGlyphs">8.0</text><text x="568.62" y="386.75" textLength="15.59" lengthAdjust="spacingAndGlyphs">10.2</text><text x="85.16" y="407.73" textLength="15.59" lengthAdjust="spacingAndGlyphs">13.2</text><text x="106.18" y="407.73" textLength="15.59" lengthAdjust="spacingAndGlyphs">16.1</text><text x="127.20" y="407.73" textLength="15.59" lengthAdjust="spacingAndGlyphs">18.0</text><text x="148.22" y="407.73" textLength="15.59" lengthAdjust="spacingAndGlyphs">19.1</text><text x="169.24" y="407.73" textLength="15.59" lengthAdjust="spacingAndGlyphs">21.1</text><text x="190.26" y="407.73" textLength="15.59" lengthAdjust="spacingAndGlyphs">23.2</text><text x="211.28" y="407.73" textLength="15.59" lengthAdjust="spacingAndGlyphs">27.0</text><text x="232.30" y="407.73" textLength="15.59" lengthAdjust="spacingAndGlyphs">30.7</text><text x="253.32" y="407.73" textLength="15.59" lengthAdjust="spacingAndGlyphs">30.1</text><text x="274.34" y="407.73" textLength="15.59" lengthAdjust="spacingAndGlyphs">30.2</text><text x="295.36" y="407.73" textLength="15.59" lengthAdjust="spacingAndGlyphs">30.4</text><text x="316.38" y="407.73" textLength="15.59" lengthAdjust="spacingAndGlyphs">30.2</text><text x="337.40" y="407.73" textLength="15.59" lengthAdjust="spacingAndGlyphs">29.0</text><text x="358.42" y="407.73" textLength="15.59" lengthAdjust="spacingAndGlyphs">26.2</text><text x="379.44" y="407.73" textLength="15.59" lengthAdjust="spacingAndGlyphs">24.3</text><text x="400.46" y="407.73" textLength="15.59" lengthAdjust="spacingAndGlyphs">17.9</text><text x="421.48" y="407.73" textLength="15.59" lengthAdjust="spacingAndGlyphs">10.6</text><text x="442.50" y="407.73" textLength="15.59" lengthAdjust="spacingAndGlyphs">10.9</text><text x="465.74" y="407.73" textLength="11.13" lengthAdjust="spacingAndGlyphs">5.0</text><text x="486.76" y="407.73" textLength="11.13" lengthAdjust="spacingAndGlyphs">4.1</text><text x="507.78" y="407.73" textLength="11.13" lengthAdjust="spacingAndGlyphs">6.8</text><text x="528.80" y="407.73" textLength="11.13" lengthAdjust="spacingAndGlyphs">8.4</text><text x="549.82" y="407.73" textLength="11.13" lengthAdjust="spacingAndGlyphs">9.5</text><text x="570.84" y="407.73" textLength="11.13" lengthAdjust="spacingAndGlyphs">9.9</text><text x="85.16" y="428.71" textLength="15.59" lengthAdjust="spacingAndGlyphs">14.0</text><text x="106.18" y="428.71" textLength="15.59" lengthAdjust="spacingAndGlyphs">16.4</text><text x="127.20" y="428.71" textLength="15.59" lengthAdjust="spacingAndGlyphs">18.7</text><text x="148.22" y="428.71" textLength="15.59" lengthAdjust="spacingAndGlyphs">19.7</text><text x="169.24" y="428.71" textLength="15.59" lengthAdjust="spacingAndGlyphs">20.8</text><text x="190.26" y="428.71" textLength="15.59" lengthAdjust="spacingAndGlyphs">23.4</text><text x="211.28" y="428.71" textLength="15.59" lengthAdjust="spacingAndGlyphs">26.5</text><text x="232.30" y="428.71" textLength="15.59" lengthAdjust="spacingAndGlyphs">28.9</text><text x="253.32" y="428.71" textLength="15.59" lengthAdjust="spacingAndGlyphs">28.9</text><text x="274.34" y="428.71" textLength="15.59" lengthAdjust="spacingAndGlyphs">28.9</text><text x="295.36" y="428.71" textLength="15.59" lengthAdjust="spacingAndGlyphs">27.8</text><text x="316.38" y="428.71" textLength="15.59" lengthAdjust="spacingAndGlyphs">27.9</text><text x="337.40" y="428.71" textLength="15.59" lengthAdjust="spacingAndGlyphs">27.6</text><text x="358.42" y="428.71" textLength="15.59" lengthAdjust="spacingAndGlyphs">26.5</text><text x="379.44" y="428.71" textLength="15.59" lengthAdjust="spacingAndGlyphs">23.2</text><text x="400.46" y="428.71" textLength="15.59" lengthAdjust="spacingAndGlyphs">17.3</text><text x="421.48" y="428.71" textLength="15.59" lengthAdjust="spacingAndGlyphs">10.6</text><text x="444.72" y="428.71" textLength="11.13" lengthAdjust="spacingAndGlyphs">9.4</text><text x="465.74" y="428.71" textLength="11.13" lengthAdjust="spacingAndGlyphs">9.1</text><text x="486.76" y="428.71" textLength="11.13" lengthAdjust="spacingAndGlyphs">6.0</text><text x="507.78" y="428.71" textLength="11.13" lengthAdjust="spacingAndGlyphs">5.6</text><text x="528.80" y="428.71" textLength="11.13" lengthAdjust="spacingAndGlyphs">4.3</text><text x="549.82" y="428.71" textLength="11.13" lengthAdjust="spacingAndGlyphs">7.7</text><text x="568.62" y="428.71" textLength="15.59" lengthAdjust="spacingAndGlyphs">11.5</text><text x="85.16" y="449.69" textLength="15.59" lengthAdjust="spacingAndGlyphs">13.5</text><text x="106.18" y="449.69" textLength="15.59" lengthAdjust="spacingAndGlyphs">16.2</text><text x="127.20" y="449.69" textLength="15.59" lengthAdjust="spacingAndGlyphs">19.1</text><text x="148.22" y="449.69" textLength="15.59" lengthAdjust="spacingAndGlyphs">21.0</text><text x="169.24" y="449.69" textLength="15.59" lengthAdjust="spacingAndGlyphs">23.4</text><text x="190.26" y="449.69" textLength="15.59" lengthAdjust="spacingAndGlyphs">27.5</text><text x="211.28" y="449.69" textLength="15.59" lengthAdjust="spacingAndGlyphs">30.4</text><text x="232.30" y="449.69" textLength="15.59" lengthAdjust="spacingAndGlyphs">29.0</text><text x="253.32" y="449.69" textLength="15.59" lengthAdjust="spacingAndGlyphs">29.5</text><text x="274.34" y="449.69" textLength="15.59" lengthAdjust="spacingAndGlyphs">28.2</text><text x="295.36" y="449.69" textLength="15.59" lengthAdjust="spacingAndGlyphs">27.0</text><text x="316.38" y="449.69" textLength="15.59" lengthAdjust="spacingAndGlyphs">28.5</text><text x="337.40" y="449.69" textLength="15.59" lengthAdjust="spacingAndGlyphs">28.0</text><text x="358.42" y="449.69" textLength="15.59" lengthAdjust="spacingAndGlyphs">26.9</text><text x="379.44" y="449.69" textLength="15.59" lengthAdjust="spacingAndGlyphs">26.5</text><text x="400.46" y="449.69" textLength="15.59" lengthAdjust="spacingAndGlyphs">23.5</text><text x="421.48" y="449.69" textLength="15.59" lengthAdjust="spacingAndGlyphs">17.1</text><text x="442.50" y="449.69" textLength="15.59" lengthAdjust="spacingAndGlyphs">13.0</text><text x="465.74" y="449.69" textLength="11.13" lengthAdjust="spacingAndGlyphs">9.4</text><text x="486.76" y="449.69" textLength="11.13" lengthAdjust="spacingAndGlyphs">5.2</text><text x="507.78" y="449.69" textLength="11.13" lengthAdjust="spacingAndGlyphs">4.9</text><text x="528.80" y="449.69" textLength="11.13" lengthAdjust="spacingAndGlyphs">5.5</text><text x="549.82" y="449.69" textLength="11.13" lengthAdjust="spacingAndGlyphs">9.5</text><text x="568.62" y="449.69" textLength="15.59" lengthAdjust="spacingAndGlyphs">13.7</text><text x="85.16" y="470.67" textLength="15.59" lengthAdjust="spacingAndGlyphs">13.7</text><text x="106.18" y="470.67" textLength="15.59" lengthAdjust="spacingAndGlyphs">19.2</text><text x="127.20" y="470.67" textLength="15.59" lengthAdjust="spacingAndGlyphs">17.2</text><text x="148.22" y="470.67" textLength="15.59" lengthAdjust="spacingAndGlyphs">18.4</text><text x="169.24" y="470.67" textLength="15.59" lengthAdjust="spacingAndGlyphs">20.5</text><text x="190.26" y="470.67" textLength="15.59" lengthAdjust="spacingAndGlyphs">21.3</text><text x="211.28" y="470.67" textLength="15.59" lengthAdjust="spacingAndGlyphs">22.2</text><text x="232.30" y="470.67" textLength="15.59" lengthAdjust="spacingAndGlyphs">23.7</text><text x="253.32" y="470.67" textLength="15.59" lengthAdjust="spacingAndGlyphs">23.8</text><text x="274.34" y="470.67" textLength="15.59" lengthAdjust="spacingAndGlyphs">25.3</text><text x="295.36" y="470.67" textLength="15.59" lengthAdjust="spacingAndGlyphs">27.4</text><text x="316.38" y="470.67" textLength="15.59" lengthAdjust="spacingAndGlyphs">28.4</text><text x="337.40" y="470.67" textLength="15.59" lengthAdjust="spacingAndGlyphs">26.4</text><text x="358.42" y="470.67" textLength="15.59" lengthAdjust="spacingAndGlyphs">26.0</text><text x="379.44" y="470.67" textLength="15.59" lengthAdjust="spacingAndGlyphs">26.3</text><text x="400.46" y="470.67" textLength="15.59" lengthAdjust="spacingAndGlyphs">26.5</text><text x="421.48" y="470.67" textLength="15.59" lengthAdjust="spacingAndGlyphs">26.6</text><text x="442.50" y="470.67" textLength="15.59" lengthAdjust="spacingAndGlyphs">28.8</text><text x="463.52" y="470.67" textLength="15.59" lengthAdjust="spacingAndGlyphs">10.9</text><text x="484.54" y="470.67" textLength="15.59" lengthAdjust="spacingAndGlyphs">10.2</text><text x="507.78" y="470.67" textLength="11.13" lengthAdjust="spacingAndGlyphs">8.6</text><text x="528.80" y="470.67" textLength="11.13" lengthAdjust="spacingAndGlyphs">8.3</text><text x="549.82" y="470.67" textLength="11.13" lengthAdjust="spacingAndGlyphs">7.0</text><text x="568.62" y="470.67" textLength="15.59" lengthAdjust="spacingAndGlyphs">11.0</text><text x="85.16" y="491.65" textLength="15.59" lengthAdjust="spacingAndGlyphs">12.9</text><text x="106.18" y="491.65" textLength="15.59" lengthAdjust="spacingAndGlyphs">16.0</text><text x="127.20" y="491.65" textLength="15.59" lengthAdjust="spacingAndGlyphs">18.1</text><text x="148.22" y="491.65" textLength="15.59" lengthAdjust="spacingAndGlyphs">19.3</text><text x="169.24" y="491.65" textLength="15.59" lengthAdjust="spacingAndGlyphs">21.9</text><text x="190.26" y="491.65" textLength="15.59" lengthAdjust="spacingAndGlyphs">22.0</text><text x="211.28" y="491.65" textLength="15.59" lengthAdjust="spacingAndGlyphs">25.3</text><text x="232.30" y="491.65" textLength="15.59" lengthAdjust="spacingAndGlyphs">28.4</text><text x="253.32" y="491.65" textLength="15.59" lengthAdjust="spacingAndGlyphs">28.5</text><text x="274.34" y="491.65" textLength="15.59" lengthAdjust="spacingAndGlyphs">27.9</text><text x="295.36" y="491.65" textLength="15.59" lengthAdjust="spacingAndGlyphs">26.7</text><text x="316.38" y="491.65" textLength="15.59" lengthAdjust="spacingAndGlyphs">26.9</text><text x="337.40" y="491.65" textLength="15.59" lengthAdjust="spacingAndGlyphs">26.0</text><text x="358.42" y="491.65" textLength="15.59" lengthAdjust="spacingAndGlyphs">23.4</text><text x="379.44" y="491.65" textLength="15.59" lengthAdjust="spacingAndGlyphs">23.8</text><text x="400.46" y="491.65" textLength="15.59" lengthAdjust="spacingAndGlyphs">20.4</text><text x="421.48" y="491.65" textLength="15.59" lengthAdjust="spacingAndGlyphs">15.4</text><text x="444.72" y="491.65" textLength="11.13" lengthAdjust="spacingAndGlyphs">9.0</text><text x="465.74" y="491.65" textLength="11.13" lengthAdjust="spacingAndGlyphs">5.4</text><text x="486.76" y="491.65" textLength="11.13" lengthAdjust="spacingAndGlyphs">4.2</text><text x="507.78" y="491.65" textLength="11.13" lengthAdjust="spacingAndGlyphs">3.6</text><text x="528.80" y="491.65" textLength="11.13" lengthAdjust="spacingAndGlyphs">7.4</text><text x="549.82" y="491.65" textLength="11.13" lengthAdjust="spacingAndGlyphs">4.0</text><text x="570.84" y="491.65" textLength="11.13" lengthAdjust="spacingAndGlyphs">9.0</text><text x="85.16" y="512.63" textLength="15.59" lengthAdjust="spacingAndGlyphs">13.0</text><text x="106.18" y="512.63" textLength="15.59" lengthAdjust="spacingAndGlyphs">17.0</text><text x="127.20" y="512.63" textLength="15.59" lengthAdjust="spacingAndGlyphs">19.4</text><text x="148.22" y="512.63" textLength="15.59" lengthAdjust="spacingAndGlyphs">19.6</text><text x="169.24" y="512.63" textLength="15.59" lengthAdjust="spacingAndGlyphs">21.0</text><text x="190.26" y="512.63" textLength="15.59" lengthAdjust="spacingAndGlyphs">22.5</text><text x="211.28" y="512.63" textLength="15.59" lengthAdjust="spacingAndGlyphs">27.7</text><text x="232.30" y="512.63" textLength="15.59" lengthAdjust="spacingAndGlyphs">28.2</text><text x="253.32" y="512.63" textLength="15.59" lengthAdjust="spacingAndGlyphs">28.1</text><text x="274.34" y="512.63" textLength="15.59" lengthAdjust="spacingAndGlyphs">27.2</text><text x="295.36" y="512.63" textLength="15.59" lengthAdjust="spacingAndGlyphs">26.9</text><text x="316.38" y="512.63" textLength="15.59" lengthAdjust="spacingAndGlyphs">26.0</text><text x="337.40" y="512.63" textLength="15.59" lengthAdjust="spacingAndGlyphs">26.3</text><text x="358.42" y="512.63" textLength="15.59" lengthAdjust="spacingAndGlyphs">26.5</text><text x="379.44" y="512.63" textLength="15.59" lengthAdjust="spacingAndGlyphs">23.3</text><text x="400.46" y="512.63" textLength="15.59" lengthAdjust="spacingAndGlyphs">21.0</text><text x="421.48" y="512.63" textLength="15.59" lengthAdjust="spacingAndGlyphs">16.1</text><text x="442.50" y="512.63" textLength="15.59" lengthAdjust="spacingAndGlyphs">11.9</text><text x="465.74" y="512.63" textLength="11.13" lengthAdjust="spacingAndGlyphs">9.0</text><text x="486.76" y="512.63" textLength="11.13" lengthAdjust="spacingAndGlyphs">5.4</text><text x="507.78" y="512.63" textLength="11.13" lengthAdjust="spacingAndGlyphs">4.0</text><text x="528.80" y="512.63" textLength="11.13" lengthAdjust="spacingAndGlyphs">3.3</text><text x="549.82" y="512.63" textLength="11.13" lengthAdjust="spacingAndGlyphs">6.0</text><text x="570.84" y="512.63" textLength="11.13" lengthAdjust="spacingAndGlyphs">9.7</text><text x="85.16" y="533.61" textLength="15.59" lengthAdjust="spacingAndGlyphs">13.1</text><text x="106.18" y="533.61" textLength="15.59" lengthAdjust="spacingAndGlyphs">17.1</text><text x="127.20" y="533.61" textLength="15.59" lengthAdjust="spacingAndGlyphs">19.1</text><text x="148.22" y="533.61" textLength="15.59" lengthAdjust="spacingAndGlyphs">20.5</text><text x="169.24" y="533.61" textLength="15.59" lengthAdjust="spacingAndGlyphs">23.4</text><text x="190.26" y="533.61" textLength="15.59" lengthAdjust="spacingAndGlyphs">26.2</text><text x="211.28" y="533.61" textLength="15.59" lengthAdjust="spacingAndGlyphs">30.1</text><text x="232.30" y="533.61" textLength="15.59" lengthAdjust="spacingAndGlyphs">32.7</text><text x="253.32" y="533.61" textLength="15.59" lengthAdjust="spacingAndGlyphs">32.8</text><text x="274.34" y="533.61" textLength="15.59" lengthAdjust="spacingAndGlyphs">32.9</text><text x="295.36" y="533.61" textLength="15.59" lengthAdjust="spacingAndGlyphs">30.4</text><text x="316.38" y="533.61" textLength="15.59" lengthAdjust="spacingAndGlyphs">30.2</text><text x="337.40" y="533.61" textLength="15.59" lengthAdjust="spacingAndGlyphs">29.0</text><text x="358.42" y="533.61" textLength="15.59" lengthAdjust="spacingAndGlyphs">29.5</text><text x="379.44" y="533.61" textLength="15.59" lengthAdjust="spacingAndGlyphs">26.4</text><text x="400.46" y="533.61" textLength="15.59" lengthAdjust="spacingAndGlyphs">19.5</text><text x="421.48" y="533.61" textLength="15.59" lengthAdjust="spacingAndGlyphs">11.1</text><text x="444.72" y="533.61" textLength="11.13" lengthAdjust="spacingAndGlyphs">9.0</text><text x="465.74" y="533.61" textLength="11.13" lengthAdjust="spacingAndGlyphs">5.0</text><text x="486.76" y="533.61" textLength="11.13" lengthAdjust="spacingAndGlyphs">4.2</text><text x="507.78" y="533.61" textLength="11.13" lengthAdjust="spacingAndGlyphs">4.6</text><text x="528.80" y="533.61" textLength="11.13" lengthAdjust="spacingAndGlyphs">6.3</text><text x="549.82" y="533.61" textLength="11.13" lengthAdjust="spacingAndGlyphs">7.0</text><text x="570.84" y="533.61" textLength="11.13" lengthAdjust="spacingAndGlyphs">8.4</text><text x="85.16" y="554.59" textLength="15.59" lengthAdjust="spacingAndGlyphs">13.7</text><text x="106.18" y="554.59" textLength="15.59" lengthAdjust="spacingAndGlyphs">17.2</text><text x="127.20" y="554.59" textLength="15.59" lengthAdjust="spacingAndGlyphs">18.0</text><text x="148.22" y="554.59" textLength="15.59" lengthAdjust="spacingAndGlyphs">20.1</text><text x="169.24" y="554.59" textLength="15.59" lengthAdjust="spacingAndGlyphs">23.9</text><text x="190.26" y="554.59" textLength="15.59" lengthAdjust="spacingAndGlyphs">25.0</text><text x="211.28" y="554.59" textLength="15.59" lengthAdjust="spacingAndGlyphs">29.2</text><text x="232.30" y="554.59" textLength="15.59" lengthAdjust="spacingAndGlyphs">31.0</text><text x="253.32" y="554.59" textLength="15.59" lengthAdjust="spacingAndGlyphs">30.0</text><text x="274.34" y="554.59" textLength="15.59" lengthAdjust="spacingAndGlyphs">30.4</text><text x="295.36" y="554.59" textLength="15.59" lengthAdjust="spacingAndGlyphs">29.4</text><text x="316.38" y="554.59" textLength="15.59" lengthAdjust="spacingAndGlyphs">30.1</text><text x="337.40" y="554.59" textLength="15.59" lengthAdjust="spacingAndGlyphs">29.9</text><text x="358.42" y="554.59" textLength="15.59" lengthAdjust="spacingAndGlyphs">26.1</text><text x="379.44" y="554.59" textLength="15.59" lengthAdjust="spacingAndGlyphs">19.1</text><text x="400.46" y="554.59" textLength="15.59" lengthAdjust="spacingAndGlyphs">10.3</text><text x="423.70" y="554.59" textLength="11.13" lengthAdjust="spacingAndGlyphs">5.9</text><text x="444.72" y="554.59" textLength="11.13" lengthAdjust="spacingAndGlyphs">5.0</text><text x="465.74" y="554.59" textLength="11.13" lengthAdjust="spacingAndGlyphs">4.3</text><text x="486.76" y="554.59" textLength="11.13" lengthAdjust="spacingAndGlyphs">3.9</text><text x="507.78" y="554.59" textLength="11.13" lengthAdjust="spacingAndGlyphs">6.0</text><text x="528.80" y="554.59" textLength="11.13" lengthAdjust="spacingAndGlyphs">7.2</text><text x="547.60" y="554.59" textLength="15.59" lengthAdjust="spacingAndGlyphs">10.3</text><text x="568.62" y="554.59" textLength="15.59" lengthAdjust="spacingAndGlyphs">10.9</text><text x="85.16" y="575.57" textLength="15.59" lengthAdjust="spacingAndGlyphs">14.0</text><text x="106.18" y="575.57" textLength="15.59" lengthAdjust="spacingAndGlyphs">17.0</text><text x="127.20" y="575.57" textLength="15.59" lengthAdjust="spacingAndGlyphs">19.1</text><text x="148.22" y="575.57" textLength="15.59" lengthAdjust="spacingAndGlyphs">22.2</text><text x="169.24" y="575.57" textLength="15.59" lengthAdjust="spacingAndGlyphs">23.1</text><text x="190.26" y="575.57" textLength="15.59" lengthAdjust="spacingAndGlyphs">26.2</text><text x="211.28" y="575.57" textLength="15.59" lengthAdjust="spacingAndGlyphs">29.5</text><text x="232.30" y="575.57" textLength="15.59" lengthAdjust="spacingAndGlyphs">31.4</text><text x="253.32" y="575.57" textLength="15.59" lengthAdjust="spacingAndGlyphs">31.8</text><text x="274.34" y="575.57" textLength="15.59" lengthAdjust="spacingAndGlyphs">30.5</text><text x="295.36" y="575.57" textLength="15.59" lengthAdjust="spacingAndGlyphs">30.4</text><text x="316.38" y="575.57" textLength="15.59" lengthAdjust="spacingAndGlyphs">30.2</text><text x="337.40" y="575.57" textLength="15.59" lengthAdjust="spacingAndGlyphs">31.5</text><text x="358.42" y="575.57" textLength="15.59" lengthAdjust="spacingAndGlyphs">29.0</text><text x="379.44" y="575.57" textLength="15.59" lengthAdjust="spacingAndGlyphs">29.3</text><text x="400.46" y="575.57" textLength="15.59" lengthAdjust="spacingAndGlyphs">27.1</text><text x="421.48" y="575.57" textLength="15.59" lengthAdjust="spacingAndGlyphs">25.1</text><text x="442.50" y="575.57" textLength="15.59" lengthAdjust="spacingAndGlyphs">26.4</text><text x="463.52" y="575.57" textLength="15.59" lengthAdjust="spacingAndGlyphs">14.2</text><text x="486.76" y="575.57" textLength="11.13" lengthAdjust="spacingAndGlyphs">8.2</text><text x="507.78" y="575.57" textLength="11.13" lengthAdjust="spacingAndGlyphs">5.6</text><text x="528.80" y="575.57" textLength="11.13" lengthAdjust="spacingAndGlyphs">5.3</text><text x="549.82" y="575.57" textLength="11.13" lengthAdjust="spacingAndGlyphs">6.0</text><text x="570.84" y="575.57" textLength="11.13" lengthAdjust="spacingAndGlyphs">9.7</text><text x="85.16" y="596.55" textLength="15.59" lengthAdjust="spacingAndGlyphs">14.6</text><text x="106.18" y="596.55" textLength="15.59" lengthAdjust="spacingAndGlyphs">17.1</text><text x="127.20" y="596.55" textLength="15.59" lengthAdjust="spacingAndGlyphs">18.0</text><text x="148.22" y="596.55" textLength="15.59" lengthAdjust="spacingAndGlyphs">20.1</text><text x="169.24" y="596.55" textLength="15.59" lengthAdjust="spacingAndGlyphs">23.3</text><text x="190.26" y="596.55" textLength="15.59" lengthAdjust="spacingAndGlyphs">25.1</text><text x="211.28" y="596.55" textLength="15.59" lengthAdjust="spacingAndGlyphs">29.3</text><text x="232.30" y="596.55" textLength="15.59" lengthAdjust="spacingAndGlyphs">30.2</text><text x="253.32" y="596.55" textLength="15.59" lengthAdjust="spacingAndGlyphs">30.9</text><text x="274.34" y="596.55" textLength="15.59" lengthAdjust="spacingAndGlyphs">31.1</text><text x="295.36" y="596.55" textLength="15.59" lengthAdjust="spacingAndGlyphs">30.7</text><text x="316.38" y="596.55" textLength="15.59" lengthAdjust="spacingAndGlyphs">29.8</text><text x="337.40" y="596.55" textLength="15.59" lengthAdjust="spacingAndGlyphs">27.3</text><text x="358.42" y="596.55" textLength="15.59" lengthAdjust="spacingAndGlyphs">19.7</text><text x="379.44" y="596.55" textLength="15.59" lengthAdjust="spacingAndGlyphs">18.5</text><text x="400.46" y="596.55" textLength="15.59" lengthAdjust="spacingAndGlyphs">11.7</text><text x="423.70" y="596.55" textLength="11.13" lengthAdjust="spacingAndGlyphs">6.7</text><text x="444.72" y="596.55" textLength="11.13" lengthAdjust="spacingAndGlyphs">7.5</text><text x="465.74" y="596.55" textLength="11.13" lengthAdjust="spacingAndGlyphs">9.3</text><text x="486.76" y="596.55" textLength="11.13" lengthAdjust="spacingAndGlyphs">7.2</text><text x="507.78" y="596.55" textLength="11.13" lengthAdjust="spacingAndGlyphs">4.3</text><text x="528.80" y="596.55" textLength="11.13" lengthAdjust="spacingAndGlyphs">7.2</text><text x="547.60" y="596.55" textLength="15.59" lengthAdjust="spacingAndGlyphs">10.0</text><text x="568.62" y="596.55" textLength="15.59" lengthAdjust="spacingAndGlyphs">10.1</text><text x="85.16" y="617.53" textLength="15.59" lengthAdjust="spacingAndGlyphs">13.3</text><text x="106.18" y="617.53" textLength="15.59" lengthAdjust="spacingAndGlyphs">16.2</text><text x="127.20" y="617.53" textLength="15.59" lengthAdjust="spacingAndGlyphs">18.2</text><text x="148.22" y="617.53" textLength="15.59" lengthAdjust="spacingAndGlyphs">20.6</text><text x="169.24" y="617.53" textLength="15.59" lengthAdjust="spacingAndGlyphs">21.7</text><text x="190.26" y="617.53" textLength="15.59" lengthAdjust="spacingAndGlyphs">23.5</text><text x="211.28" y="617.53" textLength="15.59" lengthAdjust="spacingAndGlyphs">26.3</text><text x="232.30" y="617.53" textLength="15.59" lengthAdjust="spacingAndGlyphs">28.2</text><text x="253.32" y="617.53" textLength="15.59" lengthAdjust="spacingAndGlyphs">28.2</text><text x="274.34" y="617.53" textLength="15.59" lengthAdjust="spacingAndGlyphs">27.8</text><text x="295.36" y="617.53" textLength="15.59" lengthAdjust="spacingAndGlyphs">30.4</text><text x="316.38" y="617.53" textLength="15.59" lengthAdjust="spacingAndGlyphs">29.2</text><text x="337.40" y="617.53" textLength="15.59" lengthAdjust="spacingAndGlyphs">16.0</text><text x="358.42" y="617.53" textLength="15.59" lengthAdjust="spacingAndGlyphs">19.3</text><text x="379.44" y="617.53" textLength="15.59" lengthAdjust="spacingAndGlyphs">18.0</text><text x="400.46" y="617.53" textLength="15.59" lengthAdjust="spacingAndGlyphs">12.0</text><text x="421.48" y="617.53" textLength="15.59" lengthAdjust="spacingAndGlyphs">10.9</text><text x="444.72" y="617.53" textLength="11.13" lengthAdjust="spacingAndGlyphs">7.2</text><text x="465.74" y="617.53" textLength="11.13" lengthAdjust="spacingAndGlyphs">8.9</text><text x="486.76" y="617.53" textLength="11.13" lengthAdjust="spacingAndGlyphs">7.2</text><text x="507.78" y="617.53" textLength="11.13" lengthAdjust="spacingAndGlyphs">6.6</text><text x="528.80" y="617.53" textLength="11.13" lengthAdjust="spacingAndGlyphs">8.3</text><text x="547.60" y="617.53" textLength="15.59" lengthAdjust="spacingAndGlyphs">10.0</text><text x="568.62" y="617.53" textLength="15.59" lengthAdjust="spacingAndGlyphs">10.7</text><text x="85.16" y="638.51" textLength="15.59" lengthAdjust="spacingAndGlyphs">12.0</text><text x="106.18" y="638.51" textLength="15.59" lengthAdjust="spacingAndGlyphs">15.5</text><text x="127.20" y="638.51" textLength="15.59" lengthAdjust="spacingAndGlyphs">18.1</text><text x="148.22" y="638.51" textLength="15.59" lengthAdjust="spacingAndGlyphs">19.4</text><text x="169.24" y="638.51" textLength="15.59" lengthAdjust="spacingAndGlyphs">20.4</text><text x="190.26" y="638.51" textLength="15.59" lengthAdjust="spacingAndGlyphs">21.0</text><text x="211.28" y="638.51" textLength="15.59" lengthAdjust="spacingAndGlyphs">22.2</text><text x="232.30" y="638.51" textLength="15.59" lengthAdjust="spacingAndGlyphs">23.5</text><text x="253.32" y="638.51" textLength="15.59" lengthAdjust="spacingAndGlyphs">26.8</text><text x="274.34" y="638.51" textLength="15.59" lengthAdjust="spacingAndGlyphs">28.9</text><text x="295.36" y="638.51" textLength="15.59" lengthAdjust="spacingAndGlyphs">30.1</text><text x="316.38" y="638.51" textLength="15.59" lengthAdjust="spacingAndGlyphs">29.1</text><text x="337.40" y="638.51" textLength="15.59" lengthAdjust="spacingAndGlyphs">15.9</text><text x="358.42" y="638.51" textLength="15.59" lengthAdjust="spacingAndGlyphs">16.0</text><text x="379.44" y="638.51" textLength="15.59" lengthAdjust="spacingAndGlyphs">15.3</text><text x="400.46" y="638.51" textLength="15.59" lengthAdjust="spacingAndGlyphs">10.9</text><text x="423.70" y="638.51" textLength="11.13" lengthAdjust="spacingAndGlyphs">9.0</text><text x="444.72" y="638.51" textLength="11.13" lengthAdjust="spacingAndGlyphs">9.4</text><text x="465.74" y="638.51" textLength="11.13" lengthAdjust="spacingAndGlyphs">6.5</text><text x="486.76" y="638.51" textLength="11.13" lengthAdjust="spacingAndGlyphs">5.0</text><text x="507.78" y="638.51" textLength="11.13" lengthAdjust="spacingAndGlyphs">5.0</text><text x="528.80" y="638.51" textLength="11.13" lengthAdjust="spacingAndGlyphs">4.9</text><text x="549.82" y="638.51" textLength="11.13" lengthAdjust="spacingAndGlyphs">7.8</text><text x="568.62" y="638.51" textLength="15.59" lengthAdjust="spacingAndGlyphs">11.2</text></g>
<g font-family='"Liberation Sans", sans-serif' font-size="8.40" fill="#f6f4fb" stroke="#f6f4fb" stroke-width="0.1"><text x="127.20" y="30.09" textLength="15.59" lengthAdjust="spacingAndGlyphs">59.1</text><text x="148.22" y="30.09" textLength="15.59" lengthAdjust="spacingAndGlyphs">74.1</text><text x="169.24" y="30.09" textLength="15.59" lengthAdjust="spacingAndGlyphs">81.9</text><text x="190.26" y="30.09" textLength="15.59" lengthAdjust="spacingAndGlyphs">89.0</text><text x="211.28" y="30.09" textLength="15.59" lengthAdjust="spacingAndGlyphs">91.2</text><text x="232.30" y="30.09" textLength="15.59" lengthAdjust="spacingAndGlyphs">93.7</text><text x="253.32" y="30.09" textLength="15.59" lengthAdjust="spacingAndGlyphs">99.8</text><text x="274.34" y="30.09" textLength="15.59" lengthAdjust="spacingAndGlyphs">98.9</text><text x="295.36" y="30.09" textLength="15.59" lengthAdjust="spacingAndGlyphs">99.4</text><text x="316.38" y="30.09" textLength="15.59" lengthAdjust="spacingAndGlyphs">99.2</text><text x="337.40" y="30.09" textLength="15.59" lengthAdjust="spacingAndGlyphs">99.0</text><text x="358.42" y="30.09" textLength="15.59" lengthAdjust="spacingAndGlyphs">96.0</text><text x="379.44" y="30.09" textLength="15.59" lengthAdjust="spacingAndGlyphs">88.3</text><text x="400.46" y="30.09" textLength="15.59" lengthAdjust="spacingAndGlyphs">86.5</text><text x="421.48" y="30.09" textLength="15.59" lengthAdjust="spacingAndGlyphs">75.1</text><text x="442.50" y="30.09" textLength="15.59" lengthAdjust="spacingAndGlyphs">52.0</text><text x="127.20" y="51.07" textLength="15.59" lengthAdjust="spacingAndGlyphs">57.0</text><text x="148.22" y="51.07" textLength="15.59" lengthAdjust="spacingAndGlyphs">65.9</text><text x="169.24" y="51.07" textLength="15.59" lengthAdjust="spacingAndGlyphs">74.1</text><text x="190.26" y="51.07" textLength="15.59" lengthAdjust="spacingAndGlyphs">80.8</text><text x="211.28" y="51.07" textLength="15.59" lengthAdjust="spacingAndGlyphs">87.4</text><text x="232.30" y="51.07" textLength="15.59" lengthAdjust="spacingAndGlyphs">93.6</text><text x="253.32" y="51.07" textLength="15.59" lengthAdjust="spacingAndGlyphs">93.5</text><text x="274.34" y="51.07" textLength="15.59" lengthAdjust="spacingAndGlyphs">93.6</text><text x="295.36" y="51.07" textLength="15.59" lengthAdjust="spacingAndGlyphs">90.1</text><text x="316.38" y="51.07" textLength="15.59" lengthAdjust="spacingAndGlyphs">87.1</text><text x="337.40" y="51.07" textLength="15.59" lengthAdjust="spacingAndGlyphs">83.0</text><text x="358.42" y="51.07" textLength="15.59" lengthAdjust="spacingAndGlyphs">77.4</text><text x="379.44" y="51.07" textLength="15.59" lengthAdjust="spacingAndGlyphs">60.0</text><text x="400.46" y="51.07" textLength="15.59" lengthAdjust="spacingAndGlyphs">52.9</text><text x="421.48" y="51.07" textLength="15.59" lengthAdjust="spacingAndGlyphs">51.0</text><text x="442.50" y="51.07" textLength="15.59" lengthAdjust="spacingAndGlyphs">50.7</text><text x="127.20" y="72.05" textLength="15.59" lengthAdjust="spacingAndGlyphs">53.1</text><text x="148.22" y="72.05" textLength="15.59" lengthAdjust="spacingAndGlyphs">64.1</text><text x="169.24" y="72.05" textLength="15.59" lengthAdjust="spacingAndGlyphs">73.9</text><text x="190.26" y="72.05" textLength="15.59" lengthAdjust="spacingAndGlyphs">80.0</text><text x="211.28" y="72.05" textLength="15.59" lengthAdjust="spacingAndGlyphs">82.2</text><text x="232.30" y="72.05" textLength="15.59" lengthAdjust="spacingAndGlyphs">89.7</text><text x="253.32" y="72.05" textLength="15.59" lengthAdjust="spacingAndGlyphs">87.8</text><text x="274.34" y="72.05" textLength="15.59" lengthAdjust="spacingAndGlyphs">87.9</text><text x="295.36" y="72.05" textLength="15.59" lengthAdjust="spacingAndGlyphs">86.4</text><text x="316.38" y="72.05" textLength="15.59" lengthAdjust="spacingAndGlyphs">92.2</text><text x="337.40" y="72.05" textLength="15.59" lengthAdjust="spacingAndGlyphs">90.0</text><text x="358.42" y="72.05" textLength="15.59" lengthAdjust="spacingAndGlyphs">86.0</text><text x="379.44" y="72.05" textLength="15.59" lengthAdjust="spacingAndGlyphs">83.3</text><text x="400.46" y="72.05" textLength="15.59" lengthAdjust="spacingAndGlyphs">81.5</text><text x="421.48" y="72.05" textLength="15.59" lengthAdjust="spacingAndGlyphs">70.1</text><text x="148.22" y="93.03" textLength="15.59" lengthAdjust="spacingAndGlyphs">60.1</text><text x="169.24" y="93.03" textLength="15.59" lengthAdjust="spacingAndGlyphs">65.2</text><text x="190.26" y="93.03" textLength="15.59" lengthAdjust="spacingAndGlyphs">77.5</text><text x="211.28" y="93.03" textLength="15.59" lengthAdjust="spacingAndGlyphs">81.0</text><text x="232.30" y="93.03" textLength="15.59" lengthAdjust="spacingAndGlyphs">86.9</text><text x="253.32" y="93.03" textLength="15.59" lengthAdjust="spacingAndGlyphs">89.9</text><text x="274.34" y="93.03" textLength="15.59" lengthAdjust="spacingAndGlyphs">88.4</text><text x="295.36" y="93.03" textLength="15.59" lengthAdjust="spacingAndGlyphs">90.2</text><text x="316.38" y="93.03" textLength="15.59" lengthAdjust="spacingAndGlyphs">92.1</text><text x="337.40" y="93.03" textLength="15.59" lengthAdjust="spacingAndGlyphs">92.3</text><text x="358.42" y="93.03" textLength="15.59" lengthAdjust="spacingAndGlyphs">86.9</text><text x="379.44" y="93.03" textLength="15.59" lengthAdjust="spacingAndGlyphs">56.3</text><text x="400.46" y="93.03" textLength="15.59" lengthAdjust="spacingAndGlyphs">62.0</text><text x="148.22" y="114.01" textLength="15.59" lengthAdjust="spacingAndGlyphs">53.6</text><text x="169.24" y="114.01" textLength="15.59" lengthAdjust="spacingAndGlyphs">60.8</text><text x="190.26" y="114.01" textLength="15.59" lengthAdjust="spacingAndGlyphs">66.9</text><text x="211.28" y="114.01" textLength="15.59" lengthAdjust="spacingAndGlyphs">82.6</text><text x="232.30" y="114.01" textLength="15.59" lengthAdjust="spacingAndGlyphs">83.9</text><text x="253.32" y="114.01" textLength="15.59" lengthAdjust="spacingAndGlyphs">85.2</text><text x="274.34" y="114.01" textLength="15.59" lengthAdjust="spacingAndGlyphs">81.0</text><text x="295.36" y="114.01" textLength="15.59" lengthAdjust="spacingAndGlyphs">86.2</text><text x="316.38" y="114.01" textLength="15.59" lengthAdjust="spacingAndGlyphs">86.0</text><text x="337.40" y="114.01" textLength="15.59" lengthAdjust="spacingAndGlyphs">85.9</text><text x="358.42" y="114.01" textLength="15.59" lengthAdjust="spacingAndGlyphs">89.3</text><text x="379.44" y="114.01" textLength="15.59" lengthAdjust="spacingAndGlyphs">81.4</text><text x="400.46" y="114.01" textLength="15.59" lengthAdjust="spacingAndGlyphs">74.5</text><text x="421.48" y="114.01" textLength="15.59" lengthAdjust="spacingAndGlyphs">70.0</text><text x="442.50" y="114.01" textLength="15.59" lengthAdjust="spacingAndGlyphs">58.1</text><text x="169.24" y="134.99" textLength="15.59" lengthAdjust="spacingAndGlyphs">50.1</text><text x="190.26" y="134.99" textLength="15.59" lengthAdjust="spacingAndGlyphs">56.2</text><text x="211.28" y="134.99" textLength="15.59" lengthAdjust="spacingAndGlyphs">61.1</text><text x="232.30" y="134.99" textLength="15.59" lengthAdjust="spacingAndGlyphs">65.7</text><text x="253.32" y="134.99" textLength="15.59" lengthAdjust="spacingAndGlyphs">67.3</text><text x="274.34" y="134.99" textLength="15.59" lengthAdjust="spacingAndGlyphs">69.2</text><text x="295.36" y="134.99" textLength="15.59" lengthAdjust="spacingAndGlyphs">67.7</text><text x="316.38" y="134.99" textLength="15.59" lengthAdjust="spacingAndGlyphs">65.9</text><text x="337.40" y="134.99" textLength="15.59" lengthAdjust="spacingAndGlyphs">64.1</text><text x="358.42" y="134.99" textLength="15.59" lengthAdjust="spacingAndGlyphs">63.7</text><text x="379.44" y="134.99" textLength="15.59" lengthAdjust="spacingAndGlyphs">57.5</text><text x="400.46" y="134.99" textLength="15.59" lengthAdjust="spacingAndGlyphs">55.4</text><text x="421.48" y="134.99" textLength="15.59" lengthAdjust="spacingAndGlyphs">50.8</text><text x="232.30" y="155.97" textLength="15.59" lengthAdjust="spacingAndGlyphs">51.1</text><text x="253.32" y="155.97" textLength="15.59" lengthAdjust="spacingAndGlyphs">54.7</text><text x="274.34" y="155.97" textLength="15.59" lengthAdjust="spacingAndGlyphs">56.0</text><text x="295.36" y="155.97" textLength="15.59" lengthAdjust="spacingAndGlyphs">55.9</text><text x="316.38" y="155.97" textLength="15.59" lengthAdjust="spacingAndGlyphs">53.2</text><text x="337.40" y="155.97" textLength="15.59" lengthAdjust="spacingAndGlyphs">53.0</text><text x="358.42" y="155.97" textLength="15.59" lengthAdjust="spacingAndGlyphs">52.5</text></g>
<rect x="82.70" y="19.50" width="504.30" height="629.30" fill="none" stroke="#444" stroke-width="1.3"/>
<path d="M79.20 29.69H82.70M79.20 50.67H82.70M79.20 71.65H82.70M79.20 92.63H82.70M79.20 113.61H82.70M79.20 134.59H82.70M79.20 155.57H82.70M79.20 176.55H82.70M79.20 197.53H82.70M79.20 218.51H82.70M79.20 239.49H82.70M79.20 260.47H82.70M79.20 281.45H82.70M79.20 302.43H82.70M79.20 323.41H82.70M79.20 344.39H82.70M79.20 365.37H82.70M79.20 386.35H82.70M79.20 407.33H82.70M79.20 428.31H82.70M79.20 449.29H82.70M79.20 470.27H82.70M79.20 491.25H82.70M79.20 512.23H82.70M79.20 533.21H82.70M79.20 554.19H82.70M79.20 575.17H82.70M79.20 596.15H82.70M79.20 617.13H82.70M79.20 638.11H82.70M92.95 648.80V652.60M113.97 648.80V652.60M134.99 648.80V652.60M156.01 648.80V652.60M177.03 648.80V652.60M198.05 648.80V652.60M219.07 648.80V652.60M240.09 648.80V652.60M261.11 648.80V652.60M282.13 648.80V652.60M303.15 648.80V652.60M324.17 648.80V652.60M345.19 648.80V652.60M366.21 648.80V652.60M387.23 648.80V652.60M408.25 648.80V652.60M429.27 648.80V652.60M450.29 648.80V652.60M471.31 648.80V652.60M492.33 648.80V652.60M513.35 648.80V652.60M534.37 648.80V652.60M555.39 648.80V652.60M576.41 648.80V652.60M691.90 539.64H695.40M691.90 409.16H695.40M691.90 278.67H695.40M691.90 148.18H695.40" stroke="#333" stroke-width="1.1" fill="none"/>
<g font-family='"Liberation Sans", sans-serif' font-size="11.34" fill="#222222" stroke="#222222" stroke-width="0.25"><text x="18.92" y="34.19" textLength="55.38" lengthAdjust="spacingAndGlyphs">2020-1-17</text><text x="18.92" y="55.17" textLength="55.38" lengthAdjust="spacingAndGlyphs">2020-1-18</text><text x="18.92" y="76.15" textLength="55.38" lengthAdjust="spacingAndGlyphs">2020-1-19</text><text x="18.92" y="97.13" textLength="55.38" lengthAdjust="spacingAndGlyphs">2020-1-20</text><text x="18.92" y="118.11" textLength="55.38" lengthAdjust="spacingAndGlyphs">2020-1-21</text><text x="18.92" y="139.09" textLength="55.38" lengthAdjust="spacingAndGlyphs">2020-1-22</text><text x="18.92" y="160.07" textLength="55.38" lengthAdjust="spacingAndGlyphs">2020-1-23</text><text x="18.92" y="181.05" textLength="55.38" lengthAdjust="spacingAndGlyphs">2020-1-24</text><text x="18.92" y="202.03" textLength="55.38" lengthAdjust="spacingAndGlyphs">2020-1-25</text><text x="18.92" y="223.01" textLength="55.38" lengthAdjust="spacingAndGlyphs">2020-1-26</text><text x="18.92" y="243.99" textLength="55.38" lengthAdjust="spacingAndGlyphs">2020-1-27</text><text x="18.92" y="264.97" textLength="55.38" lengthAdjust="spacingAndGlyphs">2020-1-28</text><text x="18.92" y="285.95" textLength="55.38" lengthAdjust="spacingAndGlyphs">2020-1-29</text><text x="18.92" y="306.93" textLength="55.38" lengthAdjust="spacingAndGlyphs">2020-1-30</text><text x="18.92" y="327.91" textLength="55.38" lengthAdjust="spacingAndGlyphs">2020-1-31</text><text x="25.73" y="348.89" textLength="48.57" lengthAdjust="spacingAndGlyphs">2020-2-1</text><text x="25.73" y="369.87" textLength="48.57" lengthAdjust="spacingAndGlyphs">2020-2-2</text><text x="25.73" y="390.85" textLength="48.57" lengthAdjust="spacingAndGlyphs">2020-2-3</text><text x="25.73" y="411.83" textLength="48.57" lengthAdjust="spacingAndGlyphs">2020-2-4</text><text x="25.73" y="432.81" textLength="48.57" lengthAdjust="spacingAndGlyphs">2020-2-5</text><text x="25.73" y="453.79" textLength="48.57" lengthAdjust="spacingAndGlyphs">2020-2-6</text><text x="25.73" y="474.77" textLength="48.57" lengthAdjust="spacingAndGlyphs">2020-2-7</text><text x="25.73" y="495.75" textLength="48.57" lengthAdjust="spacingAndGlyphs">2020-2-8</text><text x="25.73" y="516.73" textLength="48.57" lengthAdjust="spacingAndGlyphs">2020-2-9</text><text x="18.92" y="537.71" textLength="55.38" lengthAdjust="spacingAndGlyphs">2020-2-10</text><text x="18.92" y="558.69" textLength="55.38" lengthAdjust="spacingAndGlyphs">2020-2-11</text><text x="18.92" y="579.67" textLength="55.38" lengthAdjust="spacingAndGlyphs">2020-2-12</text><text x="18.92" y="600.65" textLength="55.38" lengthAdjust="spacingAndGlyphs">2020-2-13</text><text x="18.92" y="621.63" textLength="55.38" lengthAdjust="spacingAndGlyphs">2020-2-14</text><text x="18.92" y="642.61" textLength="55.38" lengthAdjust="spacingAndGlyphs">2020-2-15</text><text x="89.55" y="665.3" textLength="6.81" lengthAdjust="spacingAndGlyphs">0</text><text x="110.57" y="665.3" textLength="6.81" lengthAdjust="spacingAndGlyphs">1</text><text x="131.59" y="665.3" textLength="6.81" lengthAdjust="spacingAndGlyphs">2</text><text x="152.61" y="665.3" textLength="6.81" lengthAdjust="spacingAndGlyphs">3</text><text x="173.63" y="665.3" textLength="6.81" lengthAdjust="spacingAndGlyphs">4</text><text x="194.65" y="665.3" textLength="6.81" lengthAdjust="spacingAndGlyphs">5</text><text x="215.67" y="665.3" textLength="6.81" lengthAdjust="spacingAndGlyphs">6</text><text x="236.69" y="665.3" textLength="6.81" lengthAdjust="spacingAndGlyphs">7</text><text x="257.71" y="665.3" textLength="6.81" lengthAdjust="spacingAndGlyphs">8</text><text x="278.73" y="665.3" textLength="6.81" lengthAdjust="spacingAndGlyphs">9</text><text x="296.34" y="665.3" textLength="13.62" lengthAdjust="spacingAndGlyphs">10</text><text x="317.36" y="665.3" textLength="13.62" lengthAdjust="spacingAndGlyphs">11</text><text x="338.38" y="665.3" textLength="13.62" lengthAdjust="spacingAndGlyphs">12</text><text x="359.40" y="665.3" textLength="13.62" lengthAdjust="spacingAndGlyphs">13</text><text x="380.42" y="665.3" textLength="13.62" lengthAdjust="spacingAndGlyphs">14</text><text x="401.44" y="665.3" textLength="13.62" lengthAdjust="spacingAndGlyphs">15</text><text x="422.46" y="665.3" textLength="13.62" lengthAdjust="spacingAndGlyphs">16</text><text x="443.48" y="665.3" textLength="13.62" lengthAdjust="spacingAndGlyphs">17</text><text x="464.50" y="665.3" textLength="13.62" lengthAdjust="spacingAndGlyphs">18</text><text x="485.52" y="665.3" textLength="13.62" lengthAdjust="spacingAndGlyphs">19</text><text x="506.54" y="665.3" textLength="13.62" lengthAdjust="spacingAndGlyphs">20</text><text x="527.56" y="665.3" textLength="13.62" lengthAdjust="spacingAndGlyphs">21</text><text x="548.58" y="665.3" textLength="13.62" lengthAdjust="spacingAndGlyphs">22</text><text x="569.60" y="665.3" textLength="13.62" lengthAdjust="spacingAndGlyphs">23</text><text x="699.20" y="544.04" textLength="13.62" lengthAdjust="spacingAndGlyphs">20</text><text x="699.20" y="413.56" textLength="13.62" lengthAdjust="spacingAndGlyphs">40</text><text x="699.20" y="283.07" textLength="13.62" lengthAdjust="spacingAndGlyphs">60</text><text x="699.20" y="152.58" textLength="13.62" lengthAdjust="spacingAndGlyphs">80</text><text x="306.60" y="680.7" textLength="56.15" lengthAdjust="spacingAndGlyphs">Time Point</text><text transform="translate(11.3 346.69) rotate(-90)" x="0" y="0" textLength="25.57" lengthAdjust="spacingAndGlyphs">Date</text></g>
<text font-family='"Liberation Sans", sans-serif' font-size="14.10" fill="#222222" stroke="#222222" stroke-width="0.25" x="213.66" y="12.7" textLength="242.04" lengthAdjust="spacingAndGlyphs">Average Crowd Flow Index in Beijing</text>
<rect x="659.7" y="19.0" width="32.20" height="629.60" fill="url(#cb)" stroke="#444" stroke-width="1.3"/>
</svg>
</body></html>
